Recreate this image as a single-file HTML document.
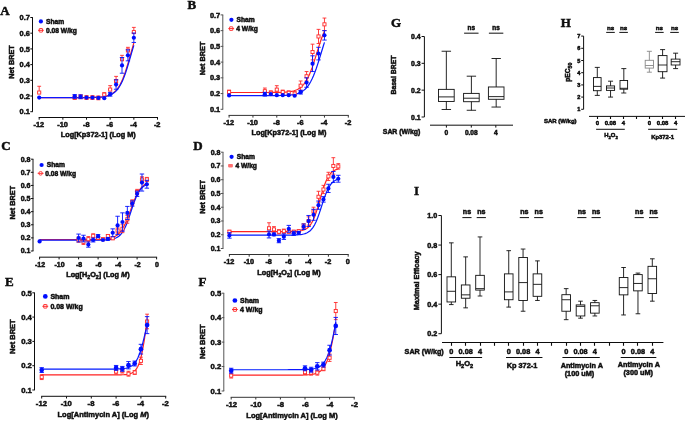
<!DOCTYPE html>
<html><head><meta charset="utf-8"><style>
html,body{margin:0;padding:0;background:#fff;}
body{width:685px;height:421px;overflow:hidden;}
svg{display:block;}
</style></head><body>
<svg width="685" height="421" viewBox="0 0 685 421">
<defs><filter id="bl" x="0" y="0" width="100%" height="100%"><feGaussianBlur stdDeviation="0.3"/></filter></defs>
<rect width="685" height="421" fill="#fff"/>
<g filter="url(#bl)">
<line x1="32.50" y1="17.50" x2="32.50" y2="111.70" stroke="#111" stroke-width="1.0" />
<line x1="30.30" y1="111.70" x2="32.90" y2="111.70" stroke="#111" stroke-width="1.0" />
<text x="29.90" y="114.33" font-family="Liberation Sans" font-weight="bold" font-size="7.4" text-anchor="end" fill="#111" stroke="#111" stroke-width="0.5" >0.1</text>
<line x1="30.30" y1="96.00" x2="32.90" y2="96.00" stroke="#111" stroke-width="1.0" />
<text x="29.90" y="98.63" font-family="Liberation Sans" font-weight="bold" font-size="7.4" text-anchor="end" fill="#111" stroke="#111" stroke-width="0.5" >0.2</text>
<line x1="30.30" y1="80.30" x2="32.90" y2="80.30" stroke="#111" stroke-width="1.0" />
<text x="29.90" y="82.93" font-family="Liberation Sans" font-weight="bold" font-size="7.4" text-anchor="end" fill="#111" stroke="#111" stroke-width="0.5" >0.3</text>
<line x1="30.30" y1="64.60" x2="32.90" y2="64.60" stroke="#111" stroke-width="1.0" />
<text x="29.90" y="67.23" font-family="Liberation Sans" font-weight="bold" font-size="7.4" text-anchor="end" fill="#111" stroke="#111" stroke-width="0.5" >0.4</text>
<line x1="30.30" y1="48.90" x2="32.90" y2="48.90" stroke="#111" stroke-width="1.0" />
<text x="29.90" y="51.53" font-family="Liberation Sans" font-weight="bold" font-size="7.4" text-anchor="end" fill="#111" stroke="#111" stroke-width="0.5" >0.5</text>
<line x1="30.30" y1="33.20" x2="32.90" y2="33.20" stroke="#111" stroke-width="1.0" />
<text x="29.90" y="35.83" font-family="Liberation Sans" font-weight="bold" font-size="7.4" text-anchor="end" fill="#111" stroke="#111" stroke-width="0.5" >0.6</text>
<line x1="30.30" y1="17.50" x2="32.90" y2="17.50" stroke="#111" stroke-width="1.0" />
<text x="29.90" y="20.13" font-family="Liberation Sans" font-weight="bold" font-size="7.4" text-anchor="end" fill="#111" stroke="#111" stroke-width="0.5" >0.7</text>
<line x1="38.70" y1="117.50" x2="158.00" y2="117.50" stroke="#111" stroke-width="1.0" />
<line x1="39.20" y1="117.50" x2="39.20" y2="119.70" stroke="#111" stroke-width="1.0" />
<text x="38.90" y="126.90" font-family="Liberation Sans" font-weight="bold" font-size="7.4" text-anchor="middle" fill="#111" stroke="#111" stroke-width="0.5" >-12</text>
<line x1="62.86" y1="117.50" x2="62.86" y2="119.70" stroke="#111" stroke-width="1.0" />
<text x="62.56" y="126.90" font-family="Liberation Sans" font-weight="bold" font-size="7.4" text-anchor="middle" fill="#111" stroke="#111" stroke-width="0.5" >-10</text>
<line x1="86.52" y1="117.50" x2="86.52" y2="119.70" stroke="#111" stroke-width="1.0" />
<text x="86.22" y="126.90" font-family="Liberation Sans" font-weight="bold" font-size="7.4" text-anchor="middle" fill="#111" stroke="#111" stroke-width="0.5" >-8</text>
<line x1="110.18" y1="117.50" x2="110.18" y2="119.70" stroke="#111" stroke-width="1.0" />
<text x="109.88" y="126.90" font-family="Liberation Sans" font-weight="bold" font-size="7.4" text-anchor="middle" fill="#111" stroke="#111" stroke-width="0.5" >-6</text>
<line x1="133.84" y1="117.50" x2="133.84" y2="119.70" stroke="#111" stroke-width="1.0" />
<text x="133.54" y="126.90" font-family="Liberation Sans" font-weight="bold" font-size="7.4" text-anchor="middle" fill="#111" stroke="#111" stroke-width="0.5" >-4</text>
<line x1="157.50" y1="117.50" x2="157.50" y2="119.70" stroke="#111" stroke-width="1.0" />
<text x="157.20" y="126.90" font-family="Liberation Sans" font-weight="bold" font-size="7.4" text-anchor="middle" fill="#111" stroke="#111" stroke-width="0.5" >-2</text>
<text x="98.30" y="137.00" font-family="Liberation Sans" font-weight="bold" font-size="7.3" text-anchor="middle" fill="#111" stroke="#111" stroke-width="0.5">Log[Kp372-1] (Log M)</text>
<text transform="translate(14.00,62.00) rotate(-90)" font-family="Liberation Sans" font-weight="bold" font-size="7.3" text-anchor="middle" fill="#111" stroke="#111" stroke-width="0.5">Net BRET</text>
<text x="0.20" y="14.50" font-family="Liberation Serif" font-weight="bold" font-size="13" text-anchor="start" fill="#111" stroke="#111" stroke-width="0.5" >A</text>
<path d="M39.20,97.64 L40.57,97.64 L41.94,97.64 L43.31,97.64 L44.69,97.64 L46.06,97.64 L47.43,97.64 L48.80,97.64 L50.17,97.64 L51.54,97.64 L52.92,97.64 L54.29,97.64 L55.66,97.64 L57.03,97.64 L58.40,97.64 L59.77,97.64 L61.15,97.64 L62.52,97.64 L63.89,97.64 L65.26,97.64 L66.63,97.64 L68.00,97.64 L69.38,97.63 L70.75,97.63 L72.12,97.63 L73.49,97.63 L74.86,97.63 L76.23,97.63 L77.60,97.62 L78.98,97.62 L80.35,97.62 L81.72,97.61 L83.09,97.60 L84.46,97.59 L85.83,97.58 L87.21,97.57 L88.58,97.55 L89.95,97.53 L91.32,97.50 L92.69,97.47 L94.06,97.42 L95.44,97.37 L96.81,97.30 L98.18,97.22 L99.55,97.11 L100.92,96.98 L102.29,96.82 L103.66,96.61 L105.04,96.36 L106.41,96.04 L107.78,95.65 L109.15,95.16 L110.52,94.55 L111.89,93.81 L113.27,92.89 L114.64,91.77 L116.01,90.41 L117.38,88.77 L118.75,86.81 L120.12,84.48 L121.50,81.77 L122.87,78.63 L124.24,75.08 L125.61,71.12 L126.98,66.79 L128.35,62.18 L129.73,57.38 L131.10,52.50 L132.47,47.66 L133.84,42.98" fill="none" stroke="#ff2424" stroke-width="1.2"/>
<path d="M39.20,97.64 L40.57,97.64 L41.94,97.64 L43.31,97.64 L44.69,97.64 L46.06,97.64 L47.43,97.64 L48.80,97.64 L50.17,97.64 L51.54,97.64 L52.92,97.64 L54.29,97.64 L55.66,97.64 L57.03,97.64 L58.40,97.64 L59.77,97.64 L61.15,97.64 L62.52,97.64 L63.89,97.64 L65.26,97.64 L66.63,97.64 L68.00,97.64 L69.38,97.64 L70.75,97.63 L72.12,97.63 L73.49,97.63 L74.86,97.63 L76.23,97.63 L77.60,97.63 L78.98,97.62 L80.35,97.62 L81.72,97.62 L83.09,97.61 L84.46,97.60 L85.83,97.59 L87.21,97.58 L88.58,97.57 L89.95,97.55 L91.32,97.52 L92.69,97.49 L94.06,97.46 L95.44,97.41 L96.81,97.35 L98.18,97.28 L99.55,97.19 L100.92,97.07 L102.29,96.93 L103.66,96.74 L105.04,96.51 L106.41,96.23 L107.78,95.87 L109.15,95.43 L110.52,94.88 L111.89,94.20 L113.27,93.35 L114.64,92.32 L116.01,91.06 L117.38,89.52 L118.75,87.68 L120.12,85.48 L121.50,82.90 L122.87,79.91 L124.24,76.50 L125.61,72.69 L126.98,68.51 L128.35,64.04 L129.73,59.37 L131.10,54.61 L132.47,49.90 L133.84,45.34" fill="none" stroke="#0818ff" stroke-width="1.2"/>
<line x1="39.20" y1="86.27" x2="39.20" y2="92.55" stroke="#ff2a2a" stroke-width="0.9" />
<line x1="37.30" y1="86.27" x2="41.10" y2="86.27" stroke="#ff2a2a" stroke-width="0.9" />
<line x1="37.30" y1="92.55" x2="41.10" y2="92.55" stroke="#ff2a2a" stroke-width="0.9" />
<rect x="37.65" y="91.00" width="3.10" height="3.10" fill="#fff" stroke="#ff2a2a" stroke-width="0.9"/>
<line x1="74.69" y1="95.69" x2="74.69" y2="99.45" stroke="#ff2a2a" stroke-width="0.9" />
<line x1="72.79" y1="95.69" x2="76.59" y2="95.69" stroke="#ff2a2a" stroke-width="0.9" />
<line x1="72.79" y1="99.45" x2="76.59" y2="99.45" stroke="#ff2a2a" stroke-width="0.9" />
<rect x="73.14" y="96.02" width="3.10" height="3.10" fill="#fff" stroke="#ff2a2a" stroke-width="0.9"/>
<line x1="80.61" y1="94.90" x2="80.61" y2="98.67" stroke="#ff2a2a" stroke-width="0.9" />
<line x1="78.70" y1="94.90" x2="82.51" y2="94.90" stroke="#ff2a2a" stroke-width="0.9" />
<line x1="78.70" y1="98.67" x2="82.51" y2="98.67" stroke="#ff2a2a" stroke-width="0.9" />
<rect x="79.06" y="95.23" width="3.10" height="3.10" fill="#fff" stroke="#ff2a2a" stroke-width="0.9"/>
<line x1="86.52" y1="95.69" x2="86.52" y2="99.45" stroke="#ff2a2a" stroke-width="0.9" />
<line x1="84.62" y1="95.69" x2="88.42" y2="95.69" stroke="#ff2a2a" stroke-width="0.9" />
<line x1="84.62" y1="99.45" x2="88.42" y2="99.45" stroke="#ff2a2a" stroke-width="0.9" />
<rect x="84.97" y="96.02" width="3.10" height="3.10" fill="#fff" stroke="#ff2a2a" stroke-width="0.9"/>
<line x1="92.44" y1="95.69" x2="92.44" y2="99.45" stroke="#ff2a2a" stroke-width="0.9" />
<line x1="90.53" y1="95.69" x2="94.34" y2="95.69" stroke="#ff2a2a" stroke-width="0.9" />
<line x1="90.53" y1="99.45" x2="94.34" y2="99.45" stroke="#ff2a2a" stroke-width="0.9" />
<rect x="90.89" y="96.02" width="3.10" height="3.10" fill="#fff" stroke="#ff2a2a" stroke-width="0.9"/>
<line x1="98.35" y1="96.00" x2="98.35" y2="99.77" stroke="#ff2a2a" stroke-width="0.9" />
<line x1="96.45" y1="96.00" x2="100.25" y2="96.00" stroke="#ff2a2a" stroke-width="0.9" />
<line x1="96.45" y1="99.77" x2="100.25" y2="99.77" stroke="#ff2a2a" stroke-width="0.9" />
<rect x="96.80" y="96.33" width="3.10" height="3.10" fill="#fff" stroke="#ff2a2a" stroke-width="0.9"/>
<line x1="104.27" y1="92.70" x2="104.27" y2="94.59" stroke="#ff2a2a" stroke-width="0.9" />
<line x1="102.36" y1="92.70" x2="106.17" y2="92.70" stroke="#ff2a2a" stroke-width="0.9" />
<line x1="102.36" y1="94.59" x2="106.17" y2="94.59" stroke="#ff2a2a" stroke-width="0.9" />
<rect x="102.72" y="93.04" width="3.10" height="3.10" fill="#fff" stroke="#ff2a2a" stroke-width="0.9"/>
<line x1="110.18" y1="85.64" x2="110.18" y2="89.56" stroke="#ff2a2a" stroke-width="0.9" />
<line x1="108.28" y1="85.64" x2="112.08" y2="85.64" stroke="#ff2a2a" stroke-width="0.9" />
<line x1="108.28" y1="89.56" x2="112.08" y2="89.56" stroke="#ff2a2a" stroke-width="0.9" />
<rect x="108.63" y="88.01" width="3.10" height="3.10" fill="#fff" stroke="#ff2a2a" stroke-width="0.9"/>
<line x1="116.09" y1="76.38" x2="116.09" y2="81.09" stroke="#ff2a2a" stroke-width="0.9" />
<line x1="114.19" y1="76.38" x2="118.00" y2="76.38" stroke="#ff2a2a" stroke-width="0.9" />
<line x1="114.19" y1="81.09" x2="118.00" y2="81.09" stroke="#ff2a2a" stroke-width="0.9" />
<rect x="114.55" y="79.54" width="3.10" height="3.10" fill="#fff" stroke="#ff2a2a" stroke-width="0.9"/>
<line x1="122.01" y1="55.34" x2="122.01" y2="59.26" stroke="#ff2a2a" stroke-width="0.9" />
<line x1="120.11" y1="55.34" x2="123.91" y2="55.34" stroke="#ff2a2a" stroke-width="0.9" />
<line x1="120.11" y1="59.26" x2="123.91" y2="59.26" stroke="#ff2a2a" stroke-width="0.9" />
<rect x="120.46" y="57.71" width="3.10" height="3.10" fill="#fff" stroke="#ff2a2a" stroke-width="0.9"/>
<line x1="127.92" y1="47.33" x2="127.92" y2="50.47" stroke="#ff2a2a" stroke-width="0.9" />
<line x1="126.02" y1="47.33" x2="129.82" y2="47.33" stroke="#ff2a2a" stroke-width="0.9" />
<line x1="126.02" y1="50.47" x2="129.82" y2="50.47" stroke="#ff2a2a" stroke-width="0.9" />
<rect x="126.38" y="48.92" width="3.10" height="3.10" fill="#fff" stroke="#ff2a2a" stroke-width="0.9"/>
<line x1="133.84" y1="27.39" x2="133.84" y2="32.10" stroke="#ff2a2a" stroke-width="0.9" />
<line x1="131.94" y1="27.39" x2="135.74" y2="27.39" stroke="#ff2a2a" stroke-width="0.9" />
<line x1="131.94" y1="32.10" x2="135.74" y2="32.10" stroke="#ff2a2a" stroke-width="0.9" />
<rect x="132.29" y="30.55" width="3.10" height="3.10" fill="#fff" stroke="#ff2a2a" stroke-width="0.9"/>
<circle cx="39.20" cy="97.57" r="2.10" fill="#0010ff"/>
<line x1="74.69" y1="94.59" x2="74.69" y2="98.36" stroke="#0010ff" stroke-width="0.9" />
<line x1="72.49" y1="94.59" x2="76.89" y2="94.59" stroke="#0010ff" stroke-width="0.9" />
<line x1="72.49" y1="98.36" x2="76.89" y2="98.36" stroke="#0010ff" stroke-width="0.9" />
<circle cx="74.69" cy="96.47" r="2.10" fill="#0010ff"/>
<line x1="80.61" y1="94.90" x2="80.61" y2="98.67" stroke="#0010ff" stroke-width="0.9" />
<line x1="78.41" y1="94.90" x2="82.81" y2="94.90" stroke="#0010ff" stroke-width="0.9" />
<line x1="78.41" y1="98.67" x2="82.81" y2="98.67" stroke="#0010ff" stroke-width="0.9" />
<circle cx="80.61" cy="96.78" r="2.10" fill="#0010ff"/>
<circle cx="86.52" cy="97.57" r="2.10" fill="#0010ff"/>
<circle cx="92.44" cy="97.57" r="2.10" fill="#0010ff"/>
<circle cx="98.35" cy="97.88" r="2.10" fill="#0010ff"/>
<circle cx="104.27" cy="98.20" r="2.10" fill="#0010ff"/>
<line x1="110.18" y1="92.39" x2="110.18" y2="96.16" stroke="#0010ff" stroke-width="0.9" />
<line x1="107.98" y1="92.39" x2="112.38" y2="92.39" stroke="#0010ff" stroke-width="0.9" />
<line x1="107.98" y1="96.16" x2="112.38" y2="96.16" stroke="#0010ff" stroke-width="0.9" />
<circle cx="110.18" cy="94.27" r="2.10" fill="#0010ff"/>
<line x1="116.09" y1="79.83" x2="116.09" y2="89.25" stroke="#0010ff" stroke-width="0.9" />
<line x1="113.89" y1="79.83" x2="118.30" y2="79.83" stroke="#0010ff" stroke-width="0.9" />
<line x1="113.89" y1="89.25" x2="118.30" y2="89.25" stroke="#0010ff" stroke-width="0.9" />
<circle cx="116.09" cy="84.54" r="2.10" fill="#0010ff"/>
<line x1="122.01" y1="57.54" x2="122.01" y2="73.23" stroke="#0010ff" stroke-width="0.9" />
<line x1="119.81" y1="57.54" x2="124.21" y2="57.54" stroke="#0010ff" stroke-width="0.9" />
<line x1="119.81" y1="73.23" x2="124.21" y2="73.23" stroke="#0010ff" stroke-width="0.9" />
<circle cx="122.01" cy="65.38" r="2.10" fill="#0010ff"/>
<line x1="127.92" y1="49.84" x2="127.92" y2="60.83" stroke="#0010ff" stroke-width="0.9" />
<line x1="125.72" y1="49.84" x2="130.12" y2="49.84" stroke="#0010ff" stroke-width="0.9" />
<line x1="125.72" y1="60.83" x2="130.12" y2="60.83" stroke="#0010ff" stroke-width="0.9" />
<circle cx="127.92" cy="55.34" r="2.10" fill="#0010ff"/>
<line x1="133.84" y1="33.04" x2="133.84" y2="42.46" stroke="#0010ff" stroke-width="0.9" />
<line x1="131.64" y1="33.04" x2="136.04" y2="33.04" stroke="#0010ff" stroke-width="0.9" />
<line x1="131.64" y1="42.46" x2="136.04" y2="42.46" stroke="#0010ff" stroke-width="0.9" />
<circle cx="133.84" cy="37.75" r="2.10" fill="#0010ff"/>
<circle cx="40.90" cy="21.40" r="2.10" fill="#0010ff"/>
<text x="46.00" y="23.80" font-family="Liberation Sans" font-weight="bold" font-size="6.7" text-anchor="start" fill="#111" stroke="#111" stroke-width="0.5" >Sham</text>
<line x1="38.00" y1="30.30" x2="43.80" y2="30.30" stroke="#ff2a2a" stroke-width="1.0" />
<rect x="39.30" y="28.50" width="3.20" height="3.60" rx="0.3" fill="none" stroke="#ff2a2a" stroke-width="0.9"/>
<text x="46.00" y="32.70" font-family="Liberation Sans" font-weight="bold" font-size="6.7" text-anchor="start" fill="#111" stroke="#111" stroke-width="0.5" >0.08 W/kg</text>
<line x1="222.80" y1="14.90" x2="222.80" y2="109.30" stroke="#555" stroke-width="1.0" />
<line x1="220.60" y1="109.30" x2="223.20" y2="109.30" stroke="#555" stroke-width="1.0" />
<text x="220.20" y="111.93" font-family="Liberation Sans" font-weight="bold" font-size="7.4" text-anchor="end" fill="#111" stroke="#111" stroke-width="0.5" >0.1</text>
<line x1="220.60" y1="93.57" x2="223.20" y2="93.57" stroke="#555" stroke-width="1.0" />
<text x="220.20" y="96.19" font-family="Liberation Sans" font-weight="bold" font-size="7.4" text-anchor="end" fill="#111" stroke="#111" stroke-width="0.5" >0.2</text>
<line x1="220.60" y1="77.83" x2="223.20" y2="77.83" stroke="#555" stroke-width="1.0" />
<text x="220.20" y="80.46" font-family="Liberation Sans" font-weight="bold" font-size="7.4" text-anchor="end" fill="#111" stroke="#111" stroke-width="0.5" >0.3</text>
<line x1="220.60" y1="62.10" x2="223.20" y2="62.10" stroke="#555" stroke-width="1.0" />
<text x="220.20" y="64.73" font-family="Liberation Sans" font-weight="bold" font-size="7.4" text-anchor="end" fill="#111" stroke="#111" stroke-width="0.5" >0.4</text>
<line x1="220.60" y1="46.37" x2="223.20" y2="46.37" stroke="#555" stroke-width="1.0" />
<text x="220.20" y="48.99" font-family="Liberation Sans" font-weight="bold" font-size="7.4" text-anchor="end" fill="#111" stroke="#111" stroke-width="0.5" >0.5</text>
<line x1="220.60" y1="30.63" x2="223.20" y2="30.63" stroke="#555" stroke-width="1.0" />
<text x="220.20" y="33.26" font-family="Liberation Sans" font-weight="bold" font-size="7.4" text-anchor="end" fill="#111" stroke="#111" stroke-width="0.5" >0.6</text>
<line x1="220.60" y1="14.90" x2="223.20" y2="14.90" stroke="#555" stroke-width="1.0" />
<text x="220.20" y="17.53" font-family="Liberation Sans" font-weight="bold" font-size="7.4" text-anchor="end" fill="#111" stroke="#111" stroke-width="0.5" >0.7</text>
<line x1="228.60" y1="115.40" x2="348.80" y2="115.40" stroke="#333" stroke-width="1.0" />
<line x1="229.10" y1="115.40" x2="229.10" y2="117.60" stroke="#333" stroke-width="1.0" />
<text x="228.80" y="124.80" font-family="Liberation Sans" font-weight="bold" font-size="7.4" text-anchor="middle" fill="#111" stroke="#111" stroke-width="0.5" >-12</text>
<line x1="252.94" y1="115.40" x2="252.94" y2="117.60" stroke="#333" stroke-width="1.0" />
<text x="252.64" y="124.80" font-family="Liberation Sans" font-weight="bold" font-size="7.4" text-anchor="middle" fill="#111" stroke="#111" stroke-width="0.5" >-10</text>
<line x1="276.78" y1="115.40" x2="276.78" y2="117.60" stroke="#333" stroke-width="1.0" />
<text x="276.48" y="124.80" font-family="Liberation Sans" font-weight="bold" font-size="7.4" text-anchor="middle" fill="#111" stroke="#111" stroke-width="0.5" >-8</text>
<line x1="300.62" y1="115.40" x2="300.62" y2="117.60" stroke="#333" stroke-width="1.0" />
<text x="300.32" y="124.80" font-family="Liberation Sans" font-weight="bold" font-size="7.4" text-anchor="middle" fill="#111" stroke="#111" stroke-width="0.5" >-6</text>
<line x1="324.46" y1="115.40" x2="324.46" y2="117.60" stroke="#333" stroke-width="1.0" />
<text x="324.16" y="124.80" font-family="Liberation Sans" font-weight="bold" font-size="7.4" text-anchor="middle" fill="#111" stroke="#111" stroke-width="0.5" >-4</text>
<line x1="348.30" y1="115.40" x2="348.30" y2="117.60" stroke="#333" stroke-width="1.0" />
<text x="348.00" y="124.80" font-family="Liberation Sans" font-weight="bold" font-size="7.4" text-anchor="middle" fill="#111" stroke="#111" stroke-width="0.5" >-2</text>
<text x="289.00" y="134.50" font-family="Liberation Sans" font-weight="bold" font-size="7.3" text-anchor="middle" fill="#111" stroke="#111" stroke-width="0.5">Log[Kp372-1] (Log M)</text>
<text transform="translate(205.00,58.40) rotate(-90)" font-family="Liberation Sans" font-weight="bold" font-size="7.3" text-anchor="middle" fill="#111" stroke="#111" stroke-width="0.5">Net BRET</text>
<text x="187.50" y="9.00" font-family="Liberation Serif" font-weight="bold" font-size="13" text-anchor="start" fill="#111" stroke="#111" stroke-width="0.5" >B</text>
<path d="M229.10,92.52 L230.48,92.52 L231.86,92.52 L233.25,92.52 L234.63,92.52 L236.01,92.52 L237.39,92.52 L238.77,92.52 L240.16,92.52 L241.54,92.52 L242.92,92.52 L244.30,92.52 L245.68,92.52 L247.07,92.52 L248.45,92.52 L249.83,92.52 L251.21,92.52 L252.59,92.51 L253.98,92.51 L255.36,92.51 L256.74,92.51 L258.12,92.51 L259.50,92.51 L260.89,92.51 L262.27,92.51 L263.65,92.51 L265.03,92.50 L266.41,92.50 L267.80,92.49 L269.18,92.49 L270.56,92.48 L271.94,92.47 L273.32,92.46 L274.71,92.44 L276.09,92.42 L277.47,92.40 L278.85,92.37 L280.24,92.33 L281.62,92.29 L283.00,92.23 L284.38,92.15 L285.76,92.06 L287.15,91.94 L288.53,91.79 L289.91,91.61 L291.29,91.38 L292.67,91.09 L294.06,90.73 L295.44,90.28 L296.82,89.73 L298.20,89.04 L299.58,88.20 L300.97,87.16 L302.35,85.90 L303.73,84.37 L305.11,82.54 L306.49,80.37 L307.88,77.83 L309.26,74.90 L310.64,71.58 L312.02,67.88 L313.40,63.86 L314.79,59.59 L316.17,55.15 L317.55,50.67 L318.93,46.27 L320.31,42.04 L321.70,38.08 L323.08,34.46 L324.46,31.22" fill="none" stroke="#ff2424" stroke-width="1.2"/>
<path d="M229.10,95.65 L230.48,95.65 L231.86,95.65 L233.25,95.65 L234.63,95.65 L236.01,95.65 L237.39,95.65 L238.77,95.65 L240.16,95.65 L241.54,95.65 L242.92,95.65 L244.30,95.65 L245.68,95.65 L247.07,95.65 L248.45,95.65 L249.83,95.65 L251.21,95.65 L252.59,95.65 L253.98,95.65 L255.36,95.65 L256.74,95.65 L258.12,95.65 L259.50,95.65 L260.89,95.65 L262.27,95.65 L263.65,95.64 L265.03,95.64 L266.41,95.64 L267.80,95.64 L269.18,95.63 L270.56,95.62 L271.94,95.62 L273.32,95.61 L274.71,95.60 L276.09,95.58 L277.47,95.56 L278.85,95.54 L280.24,95.52 L281.62,95.48 L283.00,95.44 L284.38,95.39 L285.76,95.32 L287.15,95.24 L288.53,95.14 L289.91,95.02 L291.29,94.87 L292.67,94.68 L294.06,94.45 L295.44,94.16 L296.82,93.80 L298.20,93.37 L299.58,92.83 L300.97,92.17 L302.35,91.37 L303.73,90.39 L305.11,89.21 L306.49,87.79 L307.88,86.10 L309.26,84.10 L310.64,81.76 L312.02,79.06 L313.40,75.97 L314.79,72.52 L316.17,68.71 L317.55,64.59 L318.93,60.25 L320.31,55.75 L321.70,51.22 L323.08,46.74 L324.46,42.43" fill="none" stroke="#0818ff" stroke-width="1.2"/>
<line x1="229.10" y1="90.11" x2="229.10" y2="93.88" stroke="#ff2a2a" stroke-width="0.9" />
<line x1="227.20" y1="90.11" x2="231.00" y2="90.11" stroke="#ff2a2a" stroke-width="0.9" />
<line x1="227.20" y1="93.88" x2="231.00" y2="93.88" stroke="#ff2a2a" stroke-width="0.9" />
<rect x="227.55" y="90.44" width="3.10" height="3.10" fill="#fff" stroke="#ff2a2a" stroke-width="0.9"/>
<line x1="264.86" y1="88.06" x2="264.86" y2="91.21" stroke="#ff2a2a" stroke-width="0.9" />
<line x1="262.96" y1="88.06" x2="266.76" y2="88.06" stroke="#ff2a2a" stroke-width="0.9" />
<line x1="262.96" y1="91.21" x2="266.76" y2="91.21" stroke="#ff2a2a" stroke-width="0.9" />
<rect x="263.31" y="89.66" width="3.10" height="3.10" fill="#fff" stroke="#ff2a2a" stroke-width="0.9"/>
<line x1="270.82" y1="90.89" x2="270.82" y2="94.67" stroke="#ff2a2a" stroke-width="0.9" />
<line x1="268.92" y1="90.89" x2="272.72" y2="90.89" stroke="#ff2a2a" stroke-width="0.9" />
<line x1="268.92" y1="94.67" x2="272.72" y2="94.67" stroke="#ff2a2a" stroke-width="0.9" />
<rect x="269.27" y="91.23" width="3.10" height="3.10" fill="#fff" stroke="#ff2a2a" stroke-width="0.9"/>
<line x1="276.78" y1="85.70" x2="276.78" y2="91.21" stroke="#ff2a2a" stroke-width="0.9" />
<line x1="274.88" y1="85.70" x2="278.68" y2="85.70" stroke="#ff2a2a" stroke-width="0.9" />
<line x1="274.88" y1="91.21" x2="278.68" y2="91.21" stroke="#ff2a2a" stroke-width="0.9" />
<rect x="275.23" y="88.08" width="3.10" height="3.10" fill="#fff" stroke="#ff2a2a" stroke-width="0.9"/>
<line x1="282.74" y1="90.11" x2="282.74" y2="93.88" stroke="#ff2a2a" stroke-width="0.9" />
<line x1="280.84" y1="90.11" x2="284.64" y2="90.11" stroke="#ff2a2a" stroke-width="0.9" />
<line x1="280.84" y1="93.88" x2="284.64" y2="93.88" stroke="#ff2a2a" stroke-width="0.9" />
<rect x="281.19" y="90.44" width="3.10" height="3.10" fill="#fff" stroke="#ff2a2a" stroke-width="0.9"/>
<line x1="288.70" y1="90.89" x2="288.70" y2="94.67" stroke="#ff2a2a" stroke-width="0.9" />
<line x1="286.80" y1="90.89" x2="290.60" y2="90.89" stroke="#ff2a2a" stroke-width="0.9" />
<line x1="286.80" y1="94.67" x2="290.60" y2="94.67" stroke="#ff2a2a" stroke-width="0.9" />
<rect x="287.15" y="91.23" width="3.10" height="3.10" fill="#fff" stroke="#ff2a2a" stroke-width="0.9"/>
<line x1="294.66" y1="91.68" x2="294.66" y2="95.45" stroke="#ff2a2a" stroke-width="0.9" />
<line x1="292.76" y1="91.68" x2="296.56" y2="91.68" stroke="#ff2a2a" stroke-width="0.9" />
<line x1="292.76" y1="95.45" x2="296.56" y2="95.45" stroke="#ff2a2a" stroke-width="0.9" />
<rect x="293.11" y="92.02" width="3.10" height="3.10" fill="#fff" stroke="#ff2a2a" stroke-width="0.9"/>
<line x1="300.62" y1="80.98" x2="300.62" y2="90.42" stroke="#ff2a2a" stroke-width="0.9" />
<line x1="298.72" y1="80.98" x2="302.52" y2="80.98" stroke="#ff2a2a" stroke-width="0.9" />
<line x1="298.72" y1="90.42" x2="302.52" y2="90.42" stroke="#ff2a2a" stroke-width="0.9" />
<rect x="299.07" y="84.15" width="3.10" height="3.10" fill="#fff" stroke="#ff2a2a" stroke-width="0.9"/>
<line x1="306.58" y1="71.54" x2="306.58" y2="80.98" stroke="#ff2a2a" stroke-width="0.9" />
<line x1="304.68" y1="71.54" x2="308.48" y2="71.54" stroke="#ff2a2a" stroke-width="0.9" />
<line x1="304.68" y1="80.98" x2="308.48" y2="80.98" stroke="#ff2a2a" stroke-width="0.9" />
<rect x="305.03" y="74.71" width="3.10" height="3.10" fill="#fff" stroke="#ff2a2a" stroke-width="0.9"/>
<line x1="312.54" y1="44.16" x2="312.54" y2="59.90" stroke="#ff2a2a" stroke-width="0.9" />
<line x1="310.64" y1="44.16" x2="314.44" y2="44.16" stroke="#ff2a2a" stroke-width="0.9" />
<line x1="310.64" y1="59.90" x2="314.44" y2="59.90" stroke="#ff2a2a" stroke-width="0.9" />
<rect x="310.99" y="50.48" width="3.10" height="3.10" fill="#fff" stroke="#ff2a2a" stroke-width="0.9"/>
<line x1="318.50" y1="29.37" x2="318.50" y2="43.53" stroke="#ff2a2a" stroke-width="0.9" />
<line x1="316.60" y1="29.37" x2="320.40" y2="29.37" stroke="#ff2a2a" stroke-width="0.9" />
<line x1="316.60" y1="43.53" x2="320.40" y2="43.53" stroke="#ff2a2a" stroke-width="0.9" />
<rect x="316.95" y="34.90" width="3.10" height="3.10" fill="#fff" stroke="#ff2a2a" stroke-width="0.9"/>
<line x1="324.46" y1="18.05" x2="324.46" y2="30.63" stroke="#ff2a2a" stroke-width="0.9" />
<line x1="322.56" y1="18.05" x2="326.36" y2="18.05" stroke="#ff2a2a" stroke-width="0.9" />
<line x1="322.56" y1="30.63" x2="326.36" y2="30.63" stroke="#ff2a2a" stroke-width="0.9" />
<rect x="322.91" y="22.79" width="3.10" height="3.10" fill="#fff" stroke="#ff2a2a" stroke-width="0.9"/>
<circle cx="229.10" cy="95.45" r="2.10" fill="#0010ff"/>
<line x1="264.86" y1="92.31" x2="264.86" y2="96.08" stroke="#0010ff" stroke-width="0.9" />
<line x1="262.66" y1="92.31" x2="267.06" y2="92.31" stroke="#0010ff" stroke-width="0.9" />
<line x1="262.66" y1="96.08" x2="267.06" y2="96.08" stroke="#0010ff" stroke-width="0.9" />
<circle cx="264.86" cy="94.20" r="2.10" fill="#0010ff"/>
<circle cx="270.82" cy="94.04" r="2.10" fill="#0010ff"/>
<circle cx="276.78" cy="95.14" r="2.10" fill="#0010ff"/>
<circle cx="282.74" cy="95.14" r="2.10" fill="#0010ff"/>
<circle cx="288.70" cy="95.14" r="2.10" fill="#0010ff"/>
<circle cx="294.66" cy="95.77" r="2.10" fill="#0010ff"/>
<line x1="300.62" y1="90.26" x2="300.62" y2="94.04" stroke="#0010ff" stroke-width="0.9" />
<line x1="298.42" y1="90.26" x2="302.82" y2="90.26" stroke="#0010ff" stroke-width="0.9" />
<line x1="298.42" y1="94.04" x2="302.82" y2="94.04" stroke="#0010ff" stroke-width="0.9" />
<circle cx="300.62" cy="92.15" r="2.10" fill="#0010ff"/>
<line x1="306.58" y1="77.83" x2="306.58" y2="87.27" stroke="#0010ff" stroke-width="0.9" />
<line x1="304.38" y1="77.83" x2="308.78" y2="77.83" stroke="#0010ff" stroke-width="0.9" />
<line x1="304.38" y1="87.27" x2="308.78" y2="87.27" stroke="#0010ff" stroke-width="0.9" />
<circle cx="306.58" cy="82.55" r="2.10" fill="#0010ff"/>
<line x1="312.54" y1="55.81" x2="312.54" y2="71.54" stroke="#0010ff" stroke-width="0.9" />
<line x1="310.34" y1="55.81" x2="314.74" y2="55.81" stroke="#0010ff" stroke-width="0.9" />
<line x1="310.34" y1="71.54" x2="314.74" y2="71.54" stroke="#0010ff" stroke-width="0.9" />
<circle cx="312.54" cy="63.67" r="2.10" fill="#0010ff"/>
<line x1="318.50" y1="47.31" x2="318.50" y2="59.90" stroke="#0010ff" stroke-width="0.9" />
<line x1="316.30" y1="47.31" x2="320.70" y2="47.31" stroke="#0010ff" stroke-width="0.9" />
<line x1="316.30" y1="59.90" x2="320.70" y2="59.90" stroke="#0010ff" stroke-width="0.9" />
<circle cx="318.50" cy="53.60" r="2.10" fill="#0010ff"/>
<line x1="324.46" y1="30.63" x2="324.46" y2="40.07" stroke="#0010ff" stroke-width="0.9" />
<line x1="322.26" y1="30.63" x2="326.66" y2="30.63" stroke="#0010ff" stroke-width="0.9" />
<line x1="322.26" y1="40.07" x2="326.66" y2="40.07" stroke="#0010ff" stroke-width="0.9" />
<circle cx="324.46" cy="35.35" r="2.10" fill="#0010ff"/>
<circle cx="231.40" cy="19.80" r="2.10" fill="#0010ff"/>
<text x="236.50" y="22.20" font-family="Liberation Sans" font-weight="bold" font-size="6.7" text-anchor="start" fill="#111" stroke="#111" stroke-width="0.5" >Sham</text>
<line x1="228.30" y1="28.60" x2="234.10" y2="28.60" stroke="#ff2a2a" stroke-width="1.0" />
<rect x="229.60" y="26.80" width="3.20" height="3.60" rx="0.3" fill="none" stroke="#ff2a2a" stroke-width="0.9"/>
<text x="236.30" y="31.00" font-family="Liberation Sans" font-weight="bold" font-size="6.7" text-anchor="start" fill="#111" stroke="#111" stroke-width="0.5" >4 W/kg</text>
<line x1="33.00" y1="159.20" x2="33.00" y2="251.00" stroke="#111" stroke-width="1.0" />
<line x1="30.80" y1="251.00" x2="33.40" y2="251.00" stroke="#111" stroke-width="1.0" />
<text x="30.40" y="253.49" font-family="Liberation Sans" font-weight="bold" font-size="7.0" text-anchor="end" fill="#111" stroke="#111" stroke-width="0.5" >0.1</text>
<line x1="30.80" y1="237.89" x2="33.40" y2="237.89" stroke="#111" stroke-width="1.0" />
<text x="30.40" y="240.37" font-family="Liberation Sans" font-weight="bold" font-size="7.0" text-anchor="end" fill="#111" stroke="#111" stroke-width="0.5" >0.2</text>
<line x1="30.80" y1="224.77" x2="33.40" y2="224.77" stroke="#111" stroke-width="1.0" />
<text x="30.40" y="227.26" font-family="Liberation Sans" font-weight="bold" font-size="7.0" text-anchor="end" fill="#111" stroke="#111" stroke-width="0.5" >0.3</text>
<line x1="30.80" y1="211.66" x2="33.40" y2="211.66" stroke="#111" stroke-width="1.0" />
<text x="30.40" y="214.14" font-family="Liberation Sans" font-weight="bold" font-size="7.0" text-anchor="end" fill="#111" stroke="#111" stroke-width="0.5" >0.4</text>
<line x1="30.80" y1="198.54" x2="33.40" y2="198.54" stroke="#111" stroke-width="1.0" />
<text x="30.40" y="201.03" font-family="Liberation Sans" font-weight="bold" font-size="7.0" text-anchor="end" fill="#111" stroke="#111" stroke-width="0.5" >0.5</text>
<line x1="30.80" y1="185.43" x2="33.40" y2="185.43" stroke="#111" stroke-width="1.0" />
<text x="30.40" y="187.91" font-family="Liberation Sans" font-weight="bold" font-size="7.0" text-anchor="end" fill="#111" stroke="#111" stroke-width="0.5" >0.6</text>
<line x1="30.80" y1="172.31" x2="33.40" y2="172.31" stroke="#111" stroke-width="1.0" />
<text x="30.40" y="174.80" font-family="Liberation Sans" font-weight="bold" font-size="7.0" text-anchor="end" fill="#111" stroke="#111" stroke-width="0.5" >0.7</text>
<line x1="30.80" y1="159.20" x2="33.40" y2="159.20" stroke="#111" stroke-width="1.0" />
<text x="30.40" y="161.69" font-family="Liberation Sans" font-weight="bold" font-size="7.0" text-anchor="end" fill="#111" stroke="#111" stroke-width="0.5" >0.8</text>
<line x1="39.10" y1="257.20" x2="157.10" y2="257.20" stroke="#111" stroke-width="1.0" />
<line x1="39.60" y1="257.20" x2="39.60" y2="259.40" stroke="#111" stroke-width="1.0" />
<text x="40.00" y="266.60" font-family="Liberation Sans" font-weight="bold" font-size="7.0" text-anchor="middle" fill="#111" stroke="#111" stroke-width="0.5" >-12</text>
<line x1="59.10" y1="257.20" x2="59.10" y2="259.40" stroke="#111" stroke-width="1.0" />
<text x="59.50" y="266.60" font-family="Liberation Sans" font-weight="bold" font-size="7.0" text-anchor="middle" fill="#111" stroke="#111" stroke-width="0.5" >-10</text>
<line x1="78.60" y1="257.20" x2="78.60" y2="259.40" stroke="#111" stroke-width="1.0" />
<text x="79.00" y="266.60" font-family="Liberation Sans" font-weight="bold" font-size="7.0" text-anchor="middle" fill="#111" stroke="#111" stroke-width="0.5" >-8</text>
<line x1="98.10" y1="257.20" x2="98.10" y2="259.40" stroke="#111" stroke-width="1.0" />
<text x="98.50" y="266.60" font-family="Liberation Sans" font-weight="bold" font-size="7.0" text-anchor="middle" fill="#111" stroke="#111" stroke-width="0.5" >-6</text>
<line x1="117.60" y1="257.20" x2="117.60" y2="259.40" stroke="#111" stroke-width="1.0" />
<text x="118.00" y="266.60" font-family="Liberation Sans" font-weight="bold" font-size="7.0" text-anchor="middle" fill="#111" stroke="#111" stroke-width="0.5" >-4</text>
<line x1="137.10" y1="257.20" x2="137.10" y2="259.40" stroke="#111" stroke-width="1.0" />
<text x="137.50" y="266.60" font-family="Liberation Sans" font-weight="bold" font-size="7.0" text-anchor="middle" fill="#111" stroke="#111" stroke-width="0.5" >-2</text>
<line x1="156.60" y1="257.20" x2="156.60" y2="259.40" stroke="#111" stroke-width="1.0" />
<text x="157.00" y="266.60" font-family="Liberation Sans" font-weight="bold" font-size="7.0" text-anchor="middle" fill="#111" stroke="#111" stroke-width="0.5" >0</text>
<text x="97.90" y="276.80" font-family="Liberation Sans" font-weight="bold" font-size="7.3" text-anchor="middle" fill="#111" stroke="#111" stroke-width="0.5">Log[H<tspan font-size="5.2" dy="1.9">2</tspan><tspan dy="-1.9">O</tspan><tspan font-size="5.2" dy="1.9">2</tspan><tspan dy="-1.9">] (Log </tspan><tspan font-style="italic">M</tspan>)</text>
<text transform="translate(14.50,202.70) rotate(-90)" font-family="Liberation Sans" font-weight="bold" font-size="7.3" text-anchor="middle" fill="#111" stroke="#111" stroke-width="0.5">Net BRET</text>
<text x="1.20" y="150.20" font-family="Liberation Serif" font-weight="bold" font-size="13" text-anchor="start" fill="#111" stroke="#111" stroke-width="0.5" >C</text>
<path d="M39.60,239.70 L41.15,239.70 L42.71,239.70 L44.26,239.70 L45.82,239.70 L47.37,239.70 L48.93,239.70 L50.48,239.70 L52.03,239.70 L53.59,239.70 L55.14,239.70 L56.70,239.70 L58.25,239.70 L59.81,239.70 L61.36,239.70 L62.92,239.70 L64.47,239.70 L66.02,239.70 L67.58,239.70 L69.13,239.70 L70.69,239.70 L72.24,239.70 L73.80,239.70 L75.35,239.70 L76.90,239.70 L78.46,239.70 L80.01,239.70 L81.57,239.70 L83.12,239.69 L84.68,239.69 L86.23,239.69 L87.78,239.68 L89.34,239.67 L90.89,239.66 L92.45,239.65 L94.00,239.63 L95.56,239.61 L97.11,239.58 L98.67,239.54 L100.22,239.48 L101.77,239.41 L103.33,239.31 L104.88,239.18 L106.44,239.01 L107.99,238.79 L109.55,238.49 L111.10,238.10 L112.65,237.59 L114.21,236.93 L115.76,236.07 L117.32,234.96 L118.87,233.56 L120.43,231.80 L121.98,229.63 L123.53,227.01 L125.09,223.92 L126.64,220.40 L128.20,216.50 L129.75,212.36 L131.31,208.12 L132.86,203.95 L134.42,200.01 L135.97,196.43 L137.52,193.28 L139.08,190.60 L140.63,188.36 L142.19,186.55 L143.74,185.10 L145.30,183.95 L146.85,183.06" fill="none" stroke="#ff2424" stroke-width="1.2"/>
<path d="M39.60,240.20 L41.15,240.20 L42.71,240.20 L44.26,240.20 L45.82,240.20 L47.37,240.20 L48.93,240.20 L50.48,240.20 L52.03,240.20 L53.59,240.20 L55.14,240.20 L56.70,240.20 L58.25,240.20 L59.81,240.20 L61.36,240.20 L62.92,240.20 L64.47,240.20 L66.02,240.20 L67.58,240.20 L69.13,240.20 L70.69,240.20 L72.24,240.20 L73.80,240.20 L75.35,240.20 L76.90,240.20 L78.46,240.20 L80.01,240.20 L81.57,240.20 L83.12,240.20 L84.68,240.20 L86.23,240.20 L87.78,240.20 L89.34,240.19 L90.89,240.19 L92.45,240.19 L94.00,240.18 L95.56,240.17 L97.11,240.16 L98.67,240.14 L100.22,240.12 L101.77,240.09 L103.33,240.04 L104.88,239.98 L106.44,239.90 L107.99,239.78 L109.55,239.61 L111.10,239.39 L112.65,239.07 L114.21,238.64 L115.76,238.05 L117.32,237.25 L118.87,236.17 L120.43,234.74 L121.98,232.88 L123.53,230.49 L125.09,227.52 L126.64,223.96 L128.20,219.84 L129.75,215.31 L131.31,210.58 L132.86,205.89 L134.42,201.48 L135.97,197.55 L137.52,194.20 L139.08,191.44 L140.63,189.25 L142.19,187.55 L143.74,186.25 L145.30,185.28 L146.85,184.56" fill="none" stroke="#0818ff" stroke-width="1.2"/>
<line x1="78.60" y1="236.97" x2="78.60" y2="242.21" stroke="#ff2a2a" stroke-width="0.9" />
<line x1="76.70" y1="236.97" x2="80.50" y2="236.97" stroke="#ff2a2a" stroke-width="0.9" />
<line x1="76.70" y1="242.21" x2="80.50" y2="242.21" stroke="#ff2a2a" stroke-width="0.9" />
<rect x="77.05" y="238.04" width="3.10" height="3.10" fill="#fff" stroke="#ff2a2a" stroke-width="0.9"/>
<line x1="83.47" y1="239.20" x2="83.47" y2="244.44" stroke="#ff2a2a" stroke-width="0.9" />
<line x1="81.57" y1="239.20" x2="85.38" y2="239.20" stroke="#ff2a2a" stroke-width="0.9" />
<line x1="81.57" y1="244.44" x2="85.38" y2="244.44" stroke="#ff2a2a" stroke-width="0.9" />
<rect x="81.92" y="240.27" width="3.10" height="3.10" fill="#fff" stroke="#ff2a2a" stroke-width="0.9"/>
<line x1="88.35" y1="236.57" x2="88.35" y2="241.82" stroke="#ff2a2a" stroke-width="0.9" />
<line x1="86.45" y1="236.57" x2="90.25" y2="236.57" stroke="#ff2a2a" stroke-width="0.9" />
<line x1="86.45" y1="241.82" x2="90.25" y2="241.82" stroke="#ff2a2a" stroke-width="0.9" />
<rect x="86.80" y="237.65" width="3.10" height="3.10" fill="#fff" stroke="#ff2a2a" stroke-width="0.9"/>
<line x1="93.22" y1="233.82" x2="93.22" y2="237.75" stroke="#ff2a2a" stroke-width="0.9" />
<line x1="91.32" y1="233.82" x2="95.12" y2="233.82" stroke="#ff2a2a" stroke-width="0.9" />
<line x1="91.32" y1="237.75" x2="95.12" y2="237.75" stroke="#ff2a2a" stroke-width="0.9" />
<rect x="91.67" y="234.24" width="3.10" height="3.10" fill="#fff" stroke="#ff2a2a" stroke-width="0.9"/>
<line x1="98.10" y1="236.57" x2="98.10" y2="239.20" stroke="#ff2a2a" stroke-width="0.9" />
<line x1="96.20" y1="236.57" x2="100.00" y2="236.57" stroke="#ff2a2a" stroke-width="0.9" />
<line x1="96.20" y1="239.20" x2="100.00" y2="239.20" stroke="#ff2a2a" stroke-width="0.9" />
<rect x="96.55" y="236.34" width="3.10" height="3.10" fill="#fff" stroke="#ff2a2a" stroke-width="0.9"/>
<line x1="102.97" y1="237.89" x2="102.97" y2="240.51" stroke="#ff2a2a" stroke-width="0.9" />
<line x1="101.07" y1="237.89" x2="104.88" y2="237.89" stroke="#ff2a2a" stroke-width="0.9" />
<line x1="101.07" y1="240.51" x2="104.88" y2="240.51" stroke="#ff2a2a" stroke-width="0.9" />
<rect x="101.42" y="237.65" width="3.10" height="3.10" fill="#fff" stroke="#ff2a2a" stroke-width="0.9"/>
<line x1="107.85" y1="234.74" x2="107.85" y2="237.36" stroke="#ff2a2a" stroke-width="0.9" />
<line x1="105.95" y1="234.74" x2="109.75" y2="234.74" stroke="#ff2a2a" stroke-width="0.9" />
<line x1="105.95" y1="237.36" x2="109.75" y2="237.36" stroke="#ff2a2a" stroke-width="0.9" />
<rect x="106.30" y="234.50" width="3.10" height="3.10" fill="#fff" stroke="#ff2a2a" stroke-width="0.9"/>
<line x1="112.72" y1="236.97" x2="112.72" y2="239.59" stroke="#ff2a2a" stroke-width="0.9" />
<line x1="110.82" y1="236.97" x2="114.62" y2="236.97" stroke="#ff2a2a" stroke-width="0.9" />
<line x1="110.82" y1="239.59" x2="114.62" y2="239.59" stroke="#ff2a2a" stroke-width="0.9" />
<rect x="111.17" y="236.73" width="3.10" height="3.10" fill="#fff" stroke="#ff2a2a" stroke-width="0.9"/>
<line x1="117.60" y1="227.92" x2="117.60" y2="233.16" stroke="#ff2a2a" stroke-width="0.9" />
<line x1="115.70" y1="227.92" x2="119.50" y2="227.92" stroke="#ff2a2a" stroke-width="0.9" />
<line x1="115.70" y1="233.16" x2="119.50" y2="233.16" stroke="#ff2a2a" stroke-width="0.9" />
<rect x="116.05" y="228.99" width="3.10" height="3.10" fill="#fff" stroke="#ff2a2a" stroke-width="0.9"/>
<line x1="122.47" y1="224.77" x2="122.47" y2="232.64" stroke="#ff2a2a" stroke-width="0.9" />
<line x1="120.57" y1="224.77" x2="124.38" y2="224.77" stroke="#ff2a2a" stroke-width="0.9" />
<line x1="120.57" y1="232.64" x2="124.38" y2="232.64" stroke="#ff2a2a" stroke-width="0.9" />
<rect x="120.92" y="227.16" width="3.10" height="3.10" fill="#fff" stroke="#ff2a2a" stroke-width="0.9"/>
<line x1="127.35" y1="215.33" x2="127.35" y2="223.20" stroke="#ff2a2a" stroke-width="0.9" />
<line x1="125.45" y1="215.33" x2="129.25" y2="215.33" stroke="#ff2a2a" stroke-width="0.9" />
<line x1="125.45" y1="223.20" x2="129.25" y2="223.20" stroke="#ff2a2a" stroke-width="0.9" />
<rect x="125.80" y="217.71" width="3.10" height="3.10" fill="#fff" stroke="#ff2a2a" stroke-width="0.9"/>
<line x1="132.22" y1="199.85" x2="132.22" y2="205.10" stroke="#ff2a2a" stroke-width="0.9" />
<line x1="130.32" y1="199.85" x2="134.12" y2="199.85" stroke="#ff2a2a" stroke-width="0.9" />
<line x1="130.32" y1="205.10" x2="134.12" y2="205.10" stroke="#ff2a2a" stroke-width="0.9" />
<rect x="130.67" y="200.93" width="3.10" height="3.10" fill="#fff" stroke="#ff2a2a" stroke-width="0.9"/>
<line x1="137.10" y1="189.36" x2="137.10" y2="194.61" stroke="#ff2a2a" stroke-width="0.9" />
<line x1="135.20" y1="189.36" x2="139.00" y2="189.36" stroke="#ff2a2a" stroke-width="0.9" />
<line x1="135.20" y1="194.61" x2="139.00" y2="194.61" stroke="#ff2a2a" stroke-width="0.9" />
<rect x="135.55" y="190.44" width="3.10" height="3.10" fill="#fff" stroke="#ff2a2a" stroke-width="0.9"/>
<line x1="141.97" y1="176.77" x2="141.97" y2="182.02" stroke="#ff2a2a" stroke-width="0.9" />
<line x1="140.07" y1="176.77" x2="143.88" y2="176.77" stroke="#ff2a2a" stroke-width="0.9" />
<line x1="140.07" y1="182.02" x2="143.88" y2="182.02" stroke="#ff2a2a" stroke-width="0.9" />
<rect x="140.42" y="177.85" width="3.10" height="3.10" fill="#fff" stroke="#ff2a2a" stroke-width="0.9"/>
<line x1="146.85" y1="177.43" x2="146.85" y2="181.36" stroke="#ff2a2a" stroke-width="0.9" />
<line x1="144.95" y1="177.43" x2="148.75" y2="177.43" stroke="#ff2a2a" stroke-width="0.9" />
<line x1="144.95" y1="181.36" x2="148.75" y2="181.36" stroke="#ff2a2a" stroke-width="0.9" />
<rect x="145.30" y="177.85" width="3.10" height="3.10" fill="#fff" stroke="#ff2a2a" stroke-width="0.9"/>
<circle cx="39.60" cy="241.43" r="2.10" fill="#0010ff"/>
<line x1="78.60" y1="234.08" x2="78.60" y2="241.95" stroke="#0010ff" stroke-width="0.9" />
<line x1="76.40" y1="234.08" x2="80.80" y2="234.08" stroke="#0010ff" stroke-width="0.9" />
<line x1="76.40" y1="241.95" x2="80.80" y2="241.95" stroke="#0010ff" stroke-width="0.9" />
<circle cx="78.60" cy="238.02" r="2.10" fill="#0010ff"/>
<line x1="83.47" y1="235.26" x2="83.47" y2="241.82" stroke="#0010ff" stroke-width="0.9" />
<line x1="81.27" y1="235.26" x2="85.67" y2="235.26" stroke="#0010ff" stroke-width="0.9" />
<line x1="81.27" y1="241.82" x2="85.67" y2="241.82" stroke="#0010ff" stroke-width="0.9" />
<circle cx="83.47" cy="238.54" r="2.10" fill="#0010ff"/>
<line x1="88.35" y1="241.95" x2="88.35" y2="247.20" stroke="#0010ff" stroke-width="0.9" />
<line x1="86.15" y1="241.95" x2="90.55" y2="241.95" stroke="#0010ff" stroke-width="0.9" />
<line x1="86.15" y1="247.20" x2="90.55" y2="247.20" stroke="#0010ff" stroke-width="0.9" />
<circle cx="88.35" cy="244.57" r="2.10" fill="#0010ff"/>
<line x1="93.22" y1="238.02" x2="93.22" y2="241.95" stroke="#0010ff" stroke-width="0.9" />
<line x1="91.02" y1="238.02" x2="95.42" y2="238.02" stroke="#0010ff" stroke-width="0.9" />
<line x1="91.02" y1="241.95" x2="95.42" y2="241.95" stroke="#0010ff" stroke-width="0.9" />
<circle cx="93.22" cy="239.98" r="2.10" fill="#0010ff"/>
<line x1="98.10" y1="234.61" x2="98.10" y2="237.75" stroke="#0010ff" stroke-width="0.9" />
<line x1="95.90" y1="234.61" x2="100.30" y2="234.61" stroke="#0010ff" stroke-width="0.9" />
<line x1="95.90" y1="237.75" x2="100.30" y2="237.75" stroke="#0010ff" stroke-width="0.9" />
<circle cx="98.10" cy="236.18" r="2.10" fill="#0010ff"/>
<circle cx="102.97" cy="239.98" r="2.10" fill="#0010ff"/>
<line x1="107.85" y1="237.62" x2="107.85" y2="240.25" stroke="#0010ff" stroke-width="0.9" />
<line x1="105.65" y1="237.62" x2="110.05" y2="237.62" stroke="#0010ff" stroke-width="0.9" />
<line x1="105.65" y1="240.25" x2="110.05" y2="240.25" stroke="#0010ff" stroke-width="0.9" />
<circle cx="107.85" cy="238.93" r="2.10" fill="#0010ff"/>
<line x1="112.72" y1="228.84" x2="112.72" y2="236.71" stroke="#0010ff" stroke-width="0.9" />
<line x1="110.52" y1="228.84" x2="114.92" y2="228.84" stroke="#0010ff" stroke-width="0.9" />
<line x1="110.52" y1="236.71" x2="114.92" y2="236.71" stroke="#0010ff" stroke-width="0.9" />
<circle cx="112.72" cy="232.77" r="2.10" fill="#0010ff"/>
<line x1="117.60" y1="216.25" x2="117.60" y2="234.61" stroke="#0010ff" stroke-width="0.9" />
<line x1="115.40" y1="216.25" x2="119.80" y2="216.25" stroke="#0010ff" stroke-width="0.9" />
<line x1="115.40" y1="234.61" x2="119.80" y2="234.61" stroke="#0010ff" stroke-width="0.9" />
<circle cx="117.60" cy="225.43" r="2.10" fill="#0010ff"/>
<line x1="122.47" y1="212.84" x2="122.47" y2="231.20" stroke="#0010ff" stroke-width="0.9" />
<line x1="120.27" y1="212.84" x2="124.67" y2="212.84" stroke="#0010ff" stroke-width="0.9" />
<line x1="120.27" y1="231.20" x2="124.67" y2="231.20" stroke="#0010ff" stroke-width="0.9" />
<circle cx="122.47" cy="222.02" r="2.10" fill="#0010ff"/>
<line x1="127.35" y1="206.41" x2="127.35" y2="219.53" stroke="#0010ff" stroke-width="0.9" />
<line x1="125.15" y1="206.41" x2="129.55" y2="206.41" stroke="#0010ff" stroke-width="0.9" />
<line x1="125.15" y1="219.53" x2="129.55" y2="219.53" stroke="#0010ff" stroke-width="0.9" />
<circle cx="127.35" cy="212.97" r="2.10" fill="#0010ff"/>
<line x1="132.22" y1="200.90" x2="132.22" y2="206.15" stroke="#0010ff" stroke-width="0.9" />
<line x1="130.03" y1="200.90" x2="134.42" y2="200.90" stroke="#0010ff" stroke-width="0.9" />
<line x1="130.03" y1="206.15" x2="134.42" y2="206.15" stroke="#0010ff" stroke-width="0.9" />
<circle cx="132.22" cy="203.53" r="2.10" fill="#0010ff"/>
<line x1="137.10" y1="191.20" x2="137.10" y2="196.44" stroke="#0010ff" stroke-width="0.9" />
<line x1="134.90" y1="191.20" x2="139.30" y2="191.20" stroke="#0010ff" stroke-width="0.9" />
<line x1="134.90" y1="196.44" x2="139.30" y2="196.44" stroke="#0010ff" stroke-width="0.9" />
<circle cx="137.10" cy="193.82" r="2.10" fill="#0010ff"/>
<line x1="141.97" y1="174.02" x2="141.97" y2="191.07" stroke="#0010ff" stroke-width="0.9" />
<line x1="139.78" y1="174.02" x2="144.17" y2="174.02" stroke="#0010ff" stroke-width="0.9" />
<line x1="139.78" y1="191.07" x2="144.17" y2="191.07" stroke="#0010ff" stroke-width="0.9" />
<circle cx="141.97" cy="182.54" r="2.10" fill="#0010ff"/>
<line x1="146.85" y1="180.31" x2="146.85" y2="188.18" stroke="#0010ff" stroke-width="0.9" />
<line x1="144.65" y1="180.31" x2="149.05" y2="180.31" stroke="#0010ff" stroke-width="0.9" />
<line x1="144.65" y1="188.18" x2="149.05" y2="188.18" stroke="#0010ff" stroke-width="0.9" />
<circle cx="146.85" cy="184.25" r="2.10" fill="#0010ff"/>
<circle cx="41.60" cy="165.00" r="2.10" fill="#0010ff"/>
<text x="46.70" y="167.40" font-family="Liberation Sans" font-weight="bold" font-size="6.7" text-anchor="start" fill="#111" stroke="#111" stroke-width="0.5" >Sham</text>
<line x1="37.70" y1="173.30" x2="43.50" y2="173.30" stroke="#ff2a2a" stroke-width="1.0" />
<rect x="39.00" y="171.50" width="3.20" height="3.60" rx="1.4" fill="none" stroke="#ff2a2a" stroke-width="0.9"/>
<text x="45.20" y="175.70" font-family="Liberation Sans" font-weight="bold" font-size="6.7" text-anchor="start" fill="#111" stroke="#111" stroke-width="0.5" >0.08 W/kg</text>
<line x1="223.00" y1="152.20" x2="223.00" y2="248.50" stroke="#555" stroke-width="1.0" />
<line x1="220.80" y1="248.50" x2="223.40" y2="248.50" stroke="#555" stroke-width="1.0" />
<text x="220.40" y="250.99" font-family="Liberation Sans" font-weight="bold" font-size="7.0" text-anchor="end" fill="#111" stroke="#111" stroke-width="0.5" >0.1</text>
<line x1="220.80" y1="234.74" x2="223.40" y2="234.74" stroke="#555" stroke-width="1.0" />
<text x="220.40" y="237.23" font-family="Liberation Sans" font-weight="bold" font-size="7.0" text-anchor="end" fill="#111" stroke="#111" stroke-width="0.5" >0.2</text>
<line x1="220.80" y1="220.99" x2="223.40" y2="220.99" stroke="#555" stroke-width="1.0" />
<text x="220.40" y="223.47" font-family="Liberation Sans" font-weight="bold" font-size="7.0" text-anchor="end" fill="#111" stroke="#111" stroke-width="0.5" >0.3</text>
<line x1="220.80" y1="207.23" x2="223.40" y2="207.23" stroke="#555" stroke-width="1.0" />
<text x="220.40" y="209.71" font-family="Liberation Sans" font-weight="bold" font-size="7.0" text-anchor="end" fill="#111" stroke="#111" stroke-width="0.5" >0.4</text>
<line x1="220.80" y1="193.47" x2="223.40" y2="193.47" stroke="#555" stroke-width="1.0" />
<text x="220.40" y="195.96" font-family="Liberation Sans" font-weight="bold" font-size="7.0" text-anchor="end" fill="#111" stroke="#111" stroke-width="0.5" >0.5</text>
<line x1="220.80" y1="179.71" x2="223.40" y2="179.71" stroke="#555" stroke-width="1.0" />
<text x="220.40" y="182.20" font-family="Liberation Sans" font-weight="bold" font-size="7.0" text-anchor="end" fill="#111" stroke="#111" stroke-width="0.5" >0.6</text>
<line x1="220.80" y1="165.96" x2="223.40" y2="165.96" stroke="#555" stroke-width="1.0" />
<text x="220.40" y="168.44" font-family="Liberation Sans" font-weight="bold" font-size="7.0" text-anchor="end" fill="#111" stroke="#111" stroke-width="0.5" >0.7</text>
<line x1="220.80" y1="152.20" x2="223.40" y2="152.20" stroke="#555" stroke-width="1.0" />
<text x="220.40" y="154.69" font-family="Liberation Sans" font-weight="bold" font-size="7.0" text-anchor="end" fill="#111" stroke="#111" stroke-width="0.5" >0.8</text>
<line x1="228.90" y1="254.50" x2="348.70" y2="254.50" stroke="#333" stroke-width="1.0" />
<line x1="229.40" y1="254.50" x2="229.40" y2="256.70" stroke="#333" stroke-width="1.0" />
<text x="229.10" y="264.10" font-family="Liberation Sans" font-weight="bold" font-size="7.3" text-anchor="middle" fill="#111" stroke="#111" stroke-width="0.5" >-12</text>
<line x1="249.20" y1="254.50" x2="249.20" y2="256.70" stroke="#333" stroke-width="1.0" />
<text x="248.90" y="264.10" font-family="Liberation Sans" font-weight="bold" font-size="7.3" text-anchor="middle" fill="#111" stroke="#111" stroke-width="0.5" >-10</text>
<line x1="269.00" y1="254.50" x2="269.00" y2="256.70" stroke="#333" stroke-width="1.0" />
<text x="268.70" y="264.10" font-family="Liberation Sans" font-weight="bold" font-size="7.3" text-anchor="middle" fill="#111" stroke="#111" stroke-width="0.5" >-8</text>
<line x1="288.80" y1="254.50" x2="288.80" y2="256.70" stroke="#333" stroke-width="1.0" />
<text x="288.50" y="264.10" font-family="Liberation Sans" font-weight="bold" font-size="7.3" text-anchor="middle" fill="#111" stroke="#111" stroke-width="0.5" >-6</text>
<line x1="308.60" y1="254.50" x2="308.60" y2="256.70" stroke="#333" stroke-width="1.0" />
<text x="308.30" y="264.10" font-family="Liberation Sans" font-weight="bold" font-size="7.3" text-anchor="middle" fill="#111" stroke="#111" stroke-width="0.5" >-4</text>
<line x1="328.40" y1="254.50" x2="328.40" y2="256.70" stroke="#333" stroke-width="1.0" />
<text x="328.10" y="264.10" font-family="Liberation Sans" font-weight="bold" font-size="7.3" text-anchor="middle" fill="#111" stroke="#111" stroke-width="0.5" >-2</text>
<line x1="348.20" y1="254.50" x2="348.20" y2="256.70" stroke="#333" stroke-width="1.0" />
<text x="347.90" y="264.10" font-family="Liberation Sans" font-weight="bold" font-size="7.3" text-anchor="middle" fill="#111" stroke="#111" stroke-width="0.5" >0</text>
<text x="289.00" y="275.30" font-family="Liberation Sans" font-weight="bold" font-size="7.3" text-anchor="middle" fill="#111" stroke="#111" stroke-width="0.5">Log[H<tspan font-size="5.2" dy="1.9">2</tspan><tspan dy="-1.9">O</tspan><tspan font-size="5.2" dy="1.9">2</tspan><tspan dy="-1.9">] (Log </tspan>M)</text>
<text transform="translate(205.00,196.90) rotate(-90)" font-family="Liberation Sans" font-weight="bold" font-size="7.3" text-anchor="middle" fill="#111" stroke="#111" stroke-width="0.5">Net BRET</text>
<text x="193.30" y="149.60" font-family="Liberation Serif" font-weight="bold" font-size="13" text-anchor="start" fill="#111" stroke="#111" stroke-width="0.5" >D</text>
<path d="M229.40,231.71 L230.98,231.71 L232.56,231.71 L234.13,231.71 L235.71,231.71 L237.29,231.71 L238.87,231.71 L240.45,231.71 L242.03,231.71 L243.60,231.71 L245.18,231.71 L246.76,231.71 L248.34,231.71 L249.92,231.71 L251.50,231.71 L253.07,231.71 L254.65,231.71 L256.23,231.71 L257.81,231.71 L259.39,231.71 L260.97,231.71 L262.54,231.71 L264.12,231.71 L265.70,231.71 L267.28,231.71 L268.86,231.71 L270.43,231.71 L272.01,231.71 L273.59,231.70 L275.17,231.70 L276.75,231.70 L278.33,231.70 L279.90,231.70 L281.48,231.69 L283.06,231.69 L284.64,231.68 L286.22,231.67 L287.80,231.66 L289.37,231.63 L290.95,231.60 L292.53,231.56 L294.11,231.50 L295.69,231.41 L297.27,231.29 L298.84,231.12 L300.42,230.88 L302.00,230.54 L303.58,230.06 L305.16,229.39 L306.73,228.48 L308.31,227.22 L309.89,225.52 L311.47,223.28 L313.05,220.38 L314.63,216.76 L316.20,212.40 L317.78,207.40 L319.36,201.97 L320.94,196.41 L322.52,191.05 L324.10,186.18 L325.67,181.97 L327.25,178.51 L328.83,175.76 L330.41,173.65 L331.99,172.06 L333.57,170.89 L335.14,170.03 L336.72,169.41 L338.30,168.97" fill="none" stroke="#ff2424" stroke-width="1.2"/>
<path d="M229.40,235.15 L230.98,235.15 L232.56,235.15 L234.13,235.15 L235.71,235.15 L237.29,235.15 L238.87,235.15 L240.45,235.15 L242.03,235.15 L243.60,235.15 L245.18,235.15 L246.76,235.15 L248.34,235.15 L249.92,235.15 L251.50,235.15 L253.07,235.15 L254.65,235.15 L256.23,235.15 L257.81,235.15 L259.39,235.15 L260.97,235.15 L262.54,235.15 L264.12,235.15 L265.70,235.15 L267.28,235.15 L268.86,235.15 L270.43,235.15 L272.01,235.15 L273.59,235.15 L275.17,235.15 L276.75,235.15 L278.33,235.15 L279.90,235.14 L281.48,235.14 L283.06,235.14 L284.64,235.13 L286.22,235.12 L287.80,235.11 L289.37,235.10 L290.95,235.08 L292.53,235.05 L294.11,235.00 L295.69,234.94 L297.27,234.86 L298.84,234.74 L300.42,234.57 L302.00,234.34 L303.58,234.02 L305.16,233.57 L306.73,232.94 L308.31,232.09 L309.89,230.92 L311.47,229.36 L313.05,227.32 L314.63,224.69 L316.20,221.43 L317.78,217.53 L319.36,213.08 L320.94,208.26 L322.52,203.33 L324.10,198.58 L325.67,194.24 L327.25,190.48 L328.83,187.36 L330.41,184.87 L331.99,182.95 L333.57,181.49 L335.14,180.40 L336.72,179.60 L338.30,179.02" fill="none" stroke="#0818ff" stroke-width="1.2"/>
<line x1="229.40" y1="230.34" x2="229.40" y2="233.09" stroke="#ff2a2a" stroke-width="0.9" />
<line x1="227.50" y1="230.34" x2="231.30" y2="230.34" stroke="#ff2a2a" stroke-width="0.9" />
<line x1="227.50" y1="233.09" x2="231.30" y2="233.09" stroke="#ff2a2a" stroke-width="0.9" />
<rect x="227.85" y="230.17" width="3.10" height="3.10" fill="#fff" stroke="#ff2a2a" stroke-width="0.9"/>
<line x1="269.00" y1="222.77" x2="269.00" y2="229.65" stroke="#ff2a2a" stroke-width="0.9" />
<line x1="267.10" y1="222.77" x2="270.90" y2="222.77" stroke="#ff2a2a" stroke-width="0.9" />
<line x1="267.10" y1="229.65" x2="270.90" y2="229.65" stroke="#ff2a2a" stroke-width="0.9" />
<rect x="267.45" y="226.73" width="3.10" height="3.10" fill="#fff" stroke="#ff2a2a" stroke-width="0.9"/>
<line x1="273.95" y1="226.63" x2="273.95" y2="232.13" stroke="#ff2a2a" stroke-width="0.9" />
<line x1="272.05" y1="226.63" x2="275.85" y2="226.63" stroke="#ff2a2a" stroke-width="0.9" />
<line x1="272.05" y1="232.13" x2="275.85" y2="232.13" stroke="#ff2a2a" stroke-width="0.9" />
<rect x="272.40" y="227.83" width="3.10" height="3.10" fill="#fff" stroke="#ff2a2a" stroke-width="0.9"/>
<line x1="278.90" y1="229.65" x2="278.90" y2="233.78" stroke="#ff2a2a" stroke-width="0.9" />
<line x1="277.00" y1="229.65" x2="280.80" y2="229.65" stroke="#ff2a2a" stroke-width="0.9" />
<line x1="277.00" y1="233.78" x2="280.80" y2="233.78" stroke="#ff2a2a" stroke-width="0.9" />
<rect x="277.35" y="230.17" width="3.10" height="3.10" fill="#fff" stroke="#ff2a2a" stroke-width="0.9"/>
<line x1="283.85" y1="229.10" x2="283.85" y2="233.23" stroke="#ff2a2a" stroke-width="0.9" />
<line x1="281.95" y1="229.10" x2="285.75" y2="229.10" stroke="#ff2a2a" stroke-width="0.9" />
<line x1="281.95" y1="233.23" x2="285.75" y2="233.23" stroke="#ff2a2a" stroke-width="0.9" />
<rect x="282.30" y="229.62" width="3.10" height="3.10" fill="#fff" stroke="#ff2a2a" stroke-width="0.9"/>
<line x1="288.80" y1="230.34" x2="288.80" y2="233.09" stroke="#ff2a2a" stroke-width="0.9" />
<line x1="286.90" y1="230.34" x2="290.70" y2="230.34" stroke="#ff2a2a" stroke-width="0.9" />
<line x1="286.90" y1="233.09" x2="290.70" y2="233.09" stroke="#ff2a2a" stroke-width="0.9" />
<rect x="287.25" y="230.17" width="3.10" height="3.10" fill="#fff" stroke="#ff2a2a" stroke-width="0.9"/>
<line x1="293.75" y1="230.34" x2="293.75" y2="233.09" stroke="#ff2a2a" stroke-width="0.9" />
<line x1="291.85" y1="230.34" x2="295.65" y2="230.34" stroke="#ff2a2a" stroke-width="0.9" />
<line x1="291.85" y1="233.09" x2="295.65" y2="233.09" stroke="#ff2a2a" stroke-width="0.9" />
<rect x="292.20" y="230.17" width="3.10" height="3.10" fill="#fff" stroke="#ff2a2a" stroke-width="0.9"/>
<line x1="298.70" y1="229.79" x2="298.70" y2="232.54" stroke="#ff2a2a" stroke-width="0.9" />
<line x1="296.80" y1="229.79" x2="300.60" y2="229.79" stroke="#ff2a2a" stroke-width="0.9" />
<line x1="296.80" y1="232.54" x2="300.60" y2="232.54" stroke="#ff2a2a" stroke-width="0.9" />
<rect x="297.15" y="229.62" width="3.10" height="3.10" fill="#fff" stroke="#ff2a2a" stroke-width="0.9"/>
<line x1="303.65" y1="223.74" x2="303.65" y2="229.24" stroke="#ff2a2a" stroke-width="0.9" />
<line x1="301.75" y1="223.74" x2="305.55" y2="223.74" stroke="#ff2a2a" stroke-width="0.9" />
<line x1="301.75" y1="229.24" x2="305.55" y2="229.24" stroke="#ff2a2a" stroke-width="0.9" />
<rect x="302.10" y="224.94" width="3.10" height="3.10" fill="#fff" stroke="#ff2a2a" stroke-width="0.9"/>
<line x1="308.60" y1="216.86" x2="308.60" y2="225.11" stroke="#ff2a2a" stroke-width="0.9" />
<line x1="306.70" y1="216.86" x2="310.50" y2="216.86" stroke="#ff2a2a" stroke-width="0.9" />
<line x1="306.70" y1="225.11" x2="310.50" y2="225.11" stroke="#ff2a2a" stroke-width="0.9" />
<rect x="307.05" y="219.44" width="3.10" height="3.10" fill="#fff" stroke="#ff2a2a" stroke-width="0.9"/>
<line x1="313.55" y1="207.23" x2="313.55" y2="215.48" stroke="#ff2a2a" stroke-width="0.9" />
<line x1="311.65" y1="207.23" x2="315.45" y2="207.23" stroke="#ff2a2a" stroke-width="0.9" />
<line x1="311.65" y1="215.48" x2="315.45" y2="215.48" stroke="#ff2a2a" stroke-width="0.9" />
<rect x="312.00" y="209.81" width="3.10" height="3.10" fill="#fff" stroke="#ff2a2a" stroke-width="0.9"/>
<line x1="318.50" y1="191.27" x2="318.50" y2="202.28" stroke="#ff2a2a" stroke-width="0.9" />
<line x1="316.60" y1="191.27" x2="320.40" y2="191.27" stroke="#ff2a2a" stroke-width="0.9" />
<line x1="316.60" y1="202.28" x2="320.40" y2="202.28" stroke="#ff2a2a" stroke-width="0.9" />
<rect x="316.95" y="195.22" width="3.10" height="3.10" fill="#fff" stroke="#ff2a2a" stroke-width="0.9"/>
<line x1="323.45" y1="185.35" x2="323.45" y2="193.61" stroke="#ff2a2a" stroke-width="0.9" />
<line x1="321.55" y1="185.35" x2="325.35" y2="185.35" stroke="#ff2a2a" stroke-width="0.9" />
<line x1="321.55" y1="193.61" x2="325.35" y2="193.61" stroke="#ff2a2a" stroke-width="0.9" />
<rect x="321.90" y="187.93" width="3.10" height="3.10" fill="#fff" stroke="#ff2a2a" stroke-width="0.9"/>
<line x1="328.40" y1="172.29" x2="328.40" y2="180.54" stroke="#ff2a2a" stroke-width="0.9" />
<line x1="326.50" y1="172.29" x2="330.30" y2="172.29" stroke="#ff2a2a" stroke-width="0.9" />
<line x1="326.50" y1="180.54" x2="330.30" y2="180.54" stroke="#ff2a2a" stroke-width="0.9" />
<rect x="326.85" y="174.86" width="3.10" height="3.10" fill="#fff" stroke="#ff2a2a" stroke-width="0.9"/>
<line x1="333.35" y1="157.70" x2="333.35" y2="174.21" stroke="#ff2a2a" stroke-width="0.9" />
<line x1="331.45" y1="157.70" x2="335.25" y2="157.70" stroke="#ff2a2a" stroke-width="0.9" />
<line x1="331.45" y1="174.21" x2="335.25" y2="174.21" stroke="#ff2a2a" stroke-width="0.9" />
<rect x="331.80" y="164.41" width="3.10" height="3.10" fill="#fff" stroke="#ff2a2a" stroke-width="0.9"/>
<line x1="338.30" y1="163.62" x2="338.30" y2="169.12" stroke="#ff2a2a" stroke-width="0.9" />
<line x1="336.40" y1="163.62" x2="340.20" y2="163.62" stroke="#ff2a2a" stroke-width="0.9" />
<line x1="336.40" y1="169.12" x2="340.20" y2="169.12" stroke="#ff2a2a" stroke-width="0.9" />
<rect x="336.75" y="164.82" width="3.10" height="3.10" fill="#fff" stroke="#ff2a2a" stroke-width="0.9"/>
<line x1="229.40" y1="232.68" x2="229.40" y2="238.18" stroke="#0010ff" stroke-width="0.9" />
<line x1="227.20" y1="232.68" x2="231.60" y2="232.68" stroke="#0010ff" stroke-width="0.9" />
<line x1="227.20" y1="238.18" x2="231.60" y2="238.18" stroke="#0010ff" stroke-width="0.9" />
<circle cx="229.40" cy="235.43" r="2.10" fill="#0010ff"/>
<line x1="269.00" y1="231.03" x2="269.00" y2="237.91" stroke="#0010ff" stroke-width="0.9" />
<line x1="266.80" y1="231.03" x2="271.20" y2="231.03" stroke="#0010ff" stroke-width="0.9" />
<line x1="266.80" y1="237.91" x2="271.20" y2="237.91" stroke="#0010ff" stroke-width="0.9" />
<circle cx="269.00" cy="234.47" r="2.10" fill="#0010ff"/>
<line x1="273.95" y1="233.09" x2="273.95" y2="235.84" stroke="#0010ff" stroke-width="0.9" />
<line x1="271.75" y1="233.09" x2="276.15" y2="233.09" stroke="#0010ff" stroke-width="0.9" />
<line x1="271.75" y1="235.84" x2="276.15" y2="235.84" stroke="#0010ff" stroke-width="0.9" />
<circle cx="273.95" cy="234.47" r="2.10" fill="#0010ff"/>
<line x1="278.90" y1="238.59" x2="278.90" y2="242.72" stroke="#0010ff" stroke-width="0.9" />
<line x1="276.70" y1="238.59" x2="281.10" y2="238.59" stroke="#0010ff" stroke-width="0.9" />
<line x1="276.70" y1="242.72" x2="281.10" y2="242.72" stroke="#0010ff" stroke-width="0.9" />
<circle cx="278.90" cy="240.66" r="2.10" fill="#0010ff"/>
<line x1="283.85" y1="233.92" x2="283.85" y2="239.42" stroke="#0010ff" stroke-width="0.9" />
<line x1="281.65" y1="233.92" x2="286.05" y2="233.92" stroke="#0010ff" stroke-width="0.9" />
<line x1="281.65" y1="239.42" x2="286.05" y2="239.42" stroke="#0010ff" stroke-width="0.9" />
<circle cx="283.85" cy="236.67" r="2.10" fill="#0010ff"/>
<line x1="288.80" y1="225.39" x2="288.80" y2="232.27" stroke="#0010ff" stroke-width="0.9" />
<line x1="286.60" y1="225.39" x2="291.00" y2="225.39" stroke="#0010ff" stroke-width="0.9" />
<line x1="286.60" y1="232.27" x2="291.00" y2="232.27" stroke="#0010ff" stroke-width="0.9" />
<circle cx="288.80" cy="228.83" r="2.10" fill="#0010ff"/>
<line x1="293.75" y1="231.30" x2="293.75" y2="235.43" stroke="#0010ff" stroke-width="0.9" />
<line x1="291.55" y1="231.30" x2="295.95" y2="231.30" stroke="#0010ff" stroke-width="0.9" />
<line x1="291.55" y1="235.43" x2="295.95" y2="235.43" stroke="#0010ff" stroke-width="0.9" />
<circle cx="293.75" cy="233.37" r="2.10" fill="#0010ff"/>
<line x1="298.70" y1="231.44" x2="298.70" y2="234.19" stroke="#0010ff" stroke-width="0.9" />
<line x1="296.50" y1="231.44" x2="300.90" y2="231.44" stroke="#0010ff" stroke-width="0.9" />
<line x1="296.50" y1="234.19" x2="300.90" y2="234.19" stroke="#0010ff" stroke-width="0.9" />
<circle cx="298.70" cy="232.82" r="2.10" fill="#0010ff"/>
<line x1="303.65" y1="224.01" x2="303.65" y2="229.52" stroke="#0010ff" stroke-width="0.9" />
<line x1="301.45" y1="224.01" x2="305.85" y2="224.01" stroke="#0010ff" stroke-width="0.9" />
<line x1="301.45" y1="229.52" x2="305.85" y2="229.52" stroke="#0010ff" stroke-width="0.9" />
<circle cx="303.65" cy="226.76" r="2.10" fill="#0010ff"/>
<line x1="308.60" y1="215.48" x2="308.60" y2="226.49" stroke="#0010ff" stroke-width="0.9" />
<line x1="306.40" y1="215.48" x2="310.80" y2="215.48" stroke="#0010ff" stroke-width="0.9" />
<line x1="306.40" y1="226.49" x2="310.80" y2="226.49" stroke="#0010ff" stroke-width="0.9" />
<circle cx="308.60" cy="220.99" r="2.10" fill="#0010ff"/>
<line x1="313.55" y1="209.29" x2="313.55" y2="220.30" stroke="#0010ff" stroke-width="0.9" />
<line x1="311.35" y1="209.29" x2="315.75" y2="209.29" stroke="#0010ff" stroke-width="0.9" />
<line x1="311.35" y1="220.30" x2="315.75" y2="220.30" stroke="#0010ff" stroke-width="0.9" />
<circle cx="313.55" cy="214.80" r="2.10" fill="#0010ff"/>
<line x1="318.50" y1="201.04" x2="318.50" y2="209.29" stroke="#0010ff" stroke-width="0.9" />
<line x1="316.30" y1="201.04" x2="320.70" y2="201.04" stroke="#0010ff" stroke-width="0.9" />
<line x1="316.30" y1="209.29" x2="320.70" y2="209.29" stroke="#0010ff" stroke-width="0.9" />
<circle cx="318.50" cy="205.17" r="2.10" fill="#0010ff"/>
<line x1="323.45" y1="196.64" x2="323.45" y2="202.14" stroke="#0010ff" stroke-width="0.9" />
<line x1="321.25" y1="196.64" x2="325.65" y2="196.64" stroke="#0010ff" stroke-width="0.9" />
<line x1="321.25" y1="202.14" x2="325.65" y2="202.14" stroke="#0010ff" stroke-width="0.9" />
<circle cx="323.45" cy="199.39" r="2.10" fill="#0010ff"/>
<line x1="328.40" y1="184.25" x2="328.40" y2="192.51" stroke="#0010ff" stroke-width="0.9" />
<line x1="326.20" y1="184.25" x2="330.60" y2="184.25" stroke="#0010ff" stroke-width="0.9" />
<line x1="326.20" y1="192.51" x2="330.60" y2="192.51" stroke="#0010ff" stroke-width="0.9" />
<circle cx="328.40" cy="188.38" r="2.10" fill="#0010ff"/>
<line x1="333.35" y1="171.46" x2="333.35" y2="182.47" stroke="#0010ff" stroke-width="0.9" />
<line x1="331.15" y1="171.46" x2="335.55" y2="171.46" stroke="#0010ff" stroke-width="0.9" />
<line x1="331.15" y1="182.47" x2="335.55" y2="182.47" stroke="#0010ff" stroke-width="0.9" />
<circle cx="333.35" cy="176.96" r="2.10" fill="#0010ff"/>
<line x1="338.30" y1="175.31" x2="338.30" y2="182.19" stroke="#0010ff" stroke-width="0.9" />
<line x1="336.10" y1="175.31" x2="340.50" y2="175.31" stroke="#0010ff" stroke-width="0.9" />
<line x1="336.10" y1="182.19" x2="340.50" y2="182.19" stroke="#0010ff" stroke-width="0.9" />
<circle cx="338.30" cy="178.75" r="2.10" fill="#0010ff"/>
<circle cx="231.60" cy="156.80" r="2.10" fill="#0010ff"/>
<text x="236.70" y="159.20" font-family="Liberation Sans" font-weight="bold" font-size="6.7" text-anchor="start" fill="#111" stroke="#111" stroke-width="0.5" >Sham</text>
<rect x="228.10" y="164.00" width="4.8" height="3.4" rx="0.8" fill="#ff7070"/>
<text x="235.40" y="168.10" font-family="Liberation Sans" font-weight="bold" font-size="6.7" text-anchor="start" fill="#111" stroke="#111" stroke-width="0.5" >4 W/kg</text>
<line x1="34.50" y1="292.80" x2="34.50" y2="390.00" stroke="#111" stroke-width="1.0" />
<line x1="32.30" y1="390.00" x2="34.90" y2="390.00" stroke="#111" stroke-width="1.0" />
<text x="31.90" y="392.73" font-family="Liberation Sans" font-weight="bold" font-size="7.7" text-anchor="end" fill="#111" stroke="#111" stroke-width="0.5" >0.1</text>
<line x1="32.30" y1="365.70" x2="34.90" y2="365.70" stroke="#111" stroke-width="1.0" />
<text x="31.90" y="368.43" font-family="Liberation Sans" font-weight="bold" font-size="7.7" text-anchor="end" fill="#111" stroke="#111" stroke-width="0.5" >0.2</text>
<line x1="32.30" y1="341.40" x2="34.90" y2="341.40" stroke="#111" stroke-width="1.0" />
<text x="31.90" y="344.13" font-family="Liberation Sans" font-weight="bold" font-size="7.7" text-anchor="end" fill="#111" stroke="#111" stroke-width="0.5" >0.3</text>
<line x1="32.30" y1="317.10" x2="34.90" y2="317.10" stroke="#111" stroke-width="1.0" />
<text x="31.90" y="319.83" font-family="Liberation Sans" font-weight="bold" font-size="7.7" text-anchor="end" fill="#111" stroke="#111" stroke-width="0.5" >0.4</text>
<line x1="32.30" y1="292.80" x2="34.90" y2="292.80" stroke="#111" stroke-width="1.0" />
<text x="31.90" y="295.53" font-family="Liberation Sans" font-weight="bold" font-size="7.7" text-anchor="end" fill="#111" stroke="#111" stroke-width="0.5" >0.5</text>
<line x1="41.20" y1="396.30" x2="166.20" y2="396.30" stroke="#111" stroke-width="1.0" />
<line x1="41.70" y1="396.30" x2="41.70" y2="398.50" stroke="#111" stroke-width="1.0" />
<text x="41.40" y="405.70" font-family="Liberation Sans" font-weight="bold" font-size="7.7" text-anchor="middle" fill="#111" stroke="#111" stroke-width="0.5" >-12</text>
<line x1="66.50" y1="396.30" x2="66.50" y2="398.50" stroke="#111" stroke-width="1.0" />
<text x="66.20" y="405.70" font-family="Liberation Sans" font-weight="bold" font-size="7.7" text-anchor="middle" fill="#111" stroke="#111" stroke-width="0.5" >-10</text>
<line x1="91.30" y1="396.30" x2="91.30" y2="398.50" stroke="#111" stroke-width="1.0" />
<text x="91.00" y="405.70" font-family="Liberation Sans" font-weight="bold" font-size="7.7" text-anchor="middle" fill="#111" stroke="#111" stroke-width="0.5" >-8</text>
<line x1="116.10" y1="396.30" x2="116.10" y2="398.50" stroke="#111" stroke-width="1.0" />
<text x="115.80" y="405.70" font-family="Liberation Sans" font-weight="bold" font-size="7.7" text-anchor="middle" fill="#111" stroke="#111" stroke-width="0.5" >-6</text>
<line x1="140.90" y1="396.30" x2="140.90" y2="398.50" stroke="#111" stroke-width="1.0" />
<text x="140.60" y="405.70" font-family="Liberation Sans" font-weight="bold" font-size="7.7" text-anchor="middle" fill="#111" stroke="#111" stroke-width="0.5" >-4</text>
<line x1="165.70" y1="396.30" x2="165.70" y2="398.50" stroke="#111" stroke-width="1.0" />
<text x="165.40" y="405.70" font-family="Liberation Sans" font-weight="bold" font-size="7.7" text-anchor="middle" fill="#111" stroke="#111" stroke-width="0.5" >-2</text>
<text x="103.20" y="416.50" font-family="Liberation Sans" font-weight="bold" font-size="7.5" text-anchor="middle" fill="#111" stroke="#111" stroke-width="0.5">Log[Antimycin A] (Log <tspan font-style="italic">M</tspan>)</text>
<text transform="translate(15.00,336.60) rotate(-90)" font-family="Liberation Sans" font-weight="bold" font-size="7.5" text-anchor="middle" fill="#111" stroke="#111" stroke-width="0.5">Net BRET</text>
<text x="5.00" y="286.00" font-family="Liberation Serif" font-weight="bold" font-size="13" text-anchor="start" fill="#111" stroke="#111" stroke-width="0.5" >E</text>
<path d="M41.70,374.95 L43.23,374.95 L44.76,374.95 L46.28,374.95 L47.81,374.95 L49.34,374.95 L50.87,374.95 L52.39,374.95 L53.92,374.95 L55.45,374.95 L56.98,374.95 L58.50,374.95 L60.03,374.95 L61.56,374.95 L63.09,374.95 L64.61,374.95 L66.14,374.95 L67.67,374.95 L69.20,374.95 L70.72,374.95 L72.25,374.95 L73.78,374.95 L75.31,374.95 L76.83,374.95 L78.36,374.95 L79.89,374.95 L81.42,374.95 L82.94,374.95 L84.47,374.95 L86.00,374.95 L87.53,374.95 L89.05,374.95 L90.58,374.95 L92.11,374.95 L93.64,374.95 L95.16,374.95 L96.69,374.95 L98.22,374.95 L99.75,374.95 L101.27,374.95 L102.80,374.94 L104.33,374.94 L105.86,374.94 L107.38,374.94 L108.91,374.94 L110.44,374.94 L111.97,374.94 L113.49,374.93 L115.02,374.92 L116.55,374.91 L118.08,374.89 L119.60,374.87 L121.13,374.83 L122.66,374.77 L124.19,374.69 L125.71,374.56 L127.24,374.38 L128.77,374.10 L130.30,373.69 L131.82,373.08 L133.35,372.19 L134.88,370.88 L136.41,368.99 L137.93,366.28 L139.46,362.48 L140.99,357.28 L142.52,350.41 L144.04,341.75 L145.57,331.47 L147.10,320.05" fill="none" stroke="#ff2424" stroke-width="1.2"/>
<path d="M41.70,369.11 L43.23,369.11 L44.76,369.11 L46.28,369.11 L47.81,369.11 L49.34,369.11 L50.87,369.11 L52.39,369.11 L53.92,369.11 L55.45,369.11 L56.98,369.11 L58.50,369.11 L60.03,369.11 L61.56,369.11 L63.09,369.11 L64.61,369.11 L66.14,369.11 L67.67,369.11 L69.20,369.11 L70.72,369.11 L72.25,369.11 L73.78,369.11 L75.31,369.11 L76.83,369.11 L78.36,369.11 L79.89,369.11 L81.42,369.11 L82.94,369.11 L84.47,369.11 L86.00,369.11 L87.53,369.11 L89.05,369.11 L90.58,369.11 L92.11,369.11 L93.64,369.11 L95.16,369.11 L96.69,369.11 L98.22,369.11 L99.75,369.11 L101.27,369.11 L102.80,369.11 L104.33,369.11 L105.86,369.10 L107.38,369.10 L108.91,369.09 L110.44,369.09 L111.97,369.07 L113.49,369.06 L115.02,369.03 L116.55,369.00 L118.08,368.95 L119.60,368.89 L121.13,368.80 L122.66,368.67 L124.19,368.49 L125.71,368.25 L127.24,367.90 L128.77,367.42 L130.30,366.76 L131.82,365.85 L133.35,364.61 L134.88,362.93 L136.41,360.70 L137.93,357.79 L139.46,354.09 L140.99,349.52 L142.52,344.11 L144.04,337.97 L145.57,331.37 L147.10,324.66" fill="none" stroke="#0818ff" stroke-width="1.2"/>
<line x1="41.70" y1="374.69" x2="41.70" y2="379.55" stroke="#ff2a2a" stroke-width="0.9" />
<line x1="39.80" y1="374.69" x2="43.60" y2="374.69" stroke="#ff2a2a" stroke-width="0.9" />
<line x1="39.80" y1="379.55" x2="43.60" y2="379.55" stroke="#ff2a2a" stroke-width="0.9" />
<rect x="40.15" y="375.57" width="3.10" height="3.10" fill="#fff" stroke="#ff2a2a" stroke-width="0.9"/>
<line x1="116.10" y1="369.10" x2="116.10" y2="373.96" stroke="#ff2a2a" stroke-width="0.9" />
<line x1="114.20" y1="369.10" x2="118.00" y2="369.10" stroke="#ff2a2a" stroke-width="0.9" />
<line x1="114.20" y1="373.96" x2="118.00" y2="373.96" stroke="#ff2a2a" stroke-width="0.9" />
<rect x="114.55" y="369.98" width="3.10" height="3.10" fill="#fff" stroke="#ff2a2a" stroke-width="0.9"/>
<line x1="122.30" y1="368.13" x2="122.30" y2="372.99" stroke="#ff2a2a" stroke-width="0.9" />
<line x1="120.40" y1="368.13" x2="124.20" y2="368.13" stroke="#ff2a2a" stroke-width="0.9" />
<line x1="120.40" y1="372.99" x2="124.20" y2="372.99" stroke="#ff2a2a" stroke-width="0.9" />
<rect x="120.75" y="369.01" width="3.10" height="3.10" fill="#fff" stroke="#ff2a2a" stroke-width="0.9"/>
<line x1="128.50" y1="371.29" x2="128.50" y2="376.15" stroke="#ff2a2a" stroke-width="0.9" />
<line x1="126.60" y1="371.29" x2="130.40" y2="371.29" stroke="#ff2a2a" stroke-width="0.9" />
<line x1="126.60" y1="376.15" x2="130.40" y2="376.15" stroke="#ff2a2a" stroke-width="0.9" />
<rect x="126.95" y="372.17" width="3.10" height="3.10" fill="#fff" stroke="#ff2a2a" stroke-width="0.9"/>
<line x1="134.70" y1="370.56" x2="134.70" y2="374.45" stroke="#ff2a2a" stroke-width="0.9" />
<line x1="132.80" y1="370.56" x2="136.60" y2="370.56" stroke="#ff2a2a" stroke-width="0.9" />
<line x1="132.80" y1="374.45" x2="136.60" y2="374.45" stroke="#ff2a2a" stroke-width="0.9" />
<rect x="133.15" y="370.95" width="3.10" height="3.10" fill="#fff" stroke="#ff2a2a" stroke-width="0.9"/>
<line x1="140.90" y1="357.19" x2="140.90" y2="364.49" stroke="#ff2a2a" stroke-width="0.9" />
<line x1="139.00" y1="357.19" x2="142.80" y2="357.19" stroke="#ff2a2a" stroke-width="0.9" />
<line x1="139.00" y1="364.49" x2="142.80" y2="364.49" stroke="#ff2a2a" stroke-width="0.9" />
<rect x="139.35" y="359.29" width="3.10" height="3.10" fill="#fff" stroke="#ff2a2a" stroke-width="0.9"/>
<line x1="147.10" y1="314.18" x2="147.10" y2="328.76" stroke="#ff2a2a" stroke-width="0.9" />
<line x1="145.20" y1="314.18" x2="149.00" y2="314.18" stroke="#ff2a2a" stroke-width="0.9" />
<line x1="145.20" y1="328.76" x2="149.00" y2="328.76" stroke="#ff2a2a" stroke-width="0.9" />
<rect x="145.55" y="319.92" width="3.10" height="3.10" fill="#fff" stroke="#ff2a2a" stroke-width="0.9"/>
<line x1="41.70" y1="367.64" x2="41.70" y2="372.50" stroke="#0010ff" stroke-width="0.9" />
<line x1="39.50" y1="367.64" x2="43.90" y2="367.64" stroke="#0010ff" stroke-width="0.9" />
<line x1="39.50" y1="372.50" x2="43.90" y2="372.50" stroke="#0010ff" stroke-width="0.9" />
<circle cx="41.70" cy="370.07" r="2.35" fill="#0010ff"/>
<line x1="116.10" y1="365.46" x2="116.10" y2="370.32" stroke="#0010ff" stroke-width="0.9" />
<line x1="113.90" y1="365.46" x2="118.30" y2="365.46" stroke="#0010ff" stroke-width="0.9" />
<line x1="113.90" y1="370.32" x2="118.30" y2="370.32" stroke="#0010ff" stroke-width="0.9" />
<circle cx="116.10" cy="367.89" r="2.35" fill="#0010ff"/>
<line x1="122.30" y1="366.43" x2="122.30" y2="371.29" stroke="#0010ff" stroke-width="0.9" />
<line x1="120.10" y1="366.43" x2="124.50" y2="366.43" stroke="#0010ff" stroke-width="0.9" />
<line x1="120.10" y1="371.29" x2="124.50" y2="371.29" stroke="#0010ff" stroke-width="0.9" />
<circle cx="122.30" cy="368.86" r="2.35" fill="#0010ff"/>
<line x1="128.50" y1="361.57" x2="128.50" y2="368.86" stroke="#0010ff" stroke-width="0.9" />
<line x1="126.30" y1="361.57" x2="130.70" y2="361.57" stroke="#0010ff" stroke-width="0.9" />
<line x1="126.30" y1="368.86" x2="130.70" y2="368.86" stroke="#0010ff" stroke-width="0.9" />
<circle cx="128.50" cy="365.21" r="2.35" fill="#0010ff"/>
<line x1="134.70" y1="361.08" x2="134.70" y2="365.94" stroke="#0010ff" stroke-width="0.9" />
<line x1="132.50" y1="361.08" x2="136.90" y2="361.08" stroke="#0010ff" stroke-width="0.9" />
<line x1="132.50" y1="365.94" x2="136.90" y2="365.94" stroke="#0010ff" stroke-width="0.9" />
<circle cx="134.70" cy="363.51" r="2.35" fill="#0010ff"/>
<line x1="140.90" y1="344.32" x2="140.90" y2="354.04" stroke="#0010ff" stroke-width="0.9" />
<line x1="138.70" y1="344.32" x2="143.10" y2="344.32" stroke="#0010ff" stroke-width="0.9" />
<line x1="138.70" y1="354.04" x2="143.10" y2="354.04" stroke="#0010ff" stroke-width="0.9" />
<circle cx="140.90" cy="349.18" r="2.35" fill="#0010ff"/>
<line x1="147.10" y1="316.61" x2="147.10" y2="333.62" stroke="#0010ff" stroke-width="0.9" />
<line x1="144.90" y1="316.61" x2="149.30" y2="316.61" stroke="#0010ff" stroke-width="0.9" />
<line x1="144.90" y1="333.62" x2="149.30" y2="333.62" stroke="#0010ff" stroke-width="0.9" />
<circle cx="147.10" cy="325.12" r="2.35" fill="#0010ff"/>
<circle cx="45.30" cy="296.40" r="2.35" fill="#0010ff"/>
<text x="50.40" y="298.80" font-family="Liberation Sans" font-weight="bold" font-size="7.0" text-anchor="start" fill="#111" stroke="#111" stroke-width="0.5" >Sham</text>
<line x1="42.40" y1="306.30" x2="48.20" y2="306.30" stroke="#ff2a2a" stroke-width="1.0" />
<rect x="43.70" y="304.50" width="3.20" height="3.60" rx="0.3" fill="none" stroke="#ff2a2a" stroke-width="0.9"/>
<text x="50.40" y="308.70" font-family="Liberation Sans" font-weight="bold" font-size="7.0" text-anchor="start" fill="#111" stroke="#111" stroke-width="0.5" >0.08 W/kg</text>
<line x1="223.80" y1="293.20" x2="223.80" y2="391.00" stroke="#555" stroke-width="1.0" />
<line x1="221.60" y1="391.00" x2="224.20" y2="391.00" stroke="#555" stroke-width="1.0" />
<text x="221.20" y="393.73" font-family="Liberation Sans" font-weight="bold" font-size="7.7" text-anchor="end" fill="#111" stroke="#111" stroke-width="0.5" >0.1</text>
<line x1="221.60" y1="366.55" x2="224.20" y2="366.55" stroke="#555" stroke-width="1.0" />
<text x="221.20" y="369.28" font-family="Liberation Sans" font-weight="bold" font-size="7.7" text-anchor="end" fill="#111" stroke="#111" stroke-width="0.5" >0.2</text>
<line x1="221.60" y1="342.10" x2="224.20" y2="342.10" stroke="#555" stroke-width="1.0" />
<text x="221.20" y="344.83" font-family="Liberation Sans" font-weight="bold" font-size="7.7" text-anchor="end" fill="#111" stroke="#111" stroke-width="0.5" >0.3</text>
<line x1="221.60" y1="317.65" x2="224.20" y2="317.65" stroke="#555" stroke-width="1.0" />
<text x="221.20" y="320.38" font-family="Liberation Sans" font-weight="bold" font-size="7.7" text-anchor="end" fill="#111" stroke="#111" stroke-width="0.5" >0.4</text>
<line x1="221.60" y1="293.20" x2="224.20" y2="293.20" stroke="#555" stroke-width="1.0" />
<text x="221.20" y="295.93" font-family="Liberation Sans" font-weight="bold" font-size="7.7" text-anchor="end" fill="#111" stroke="#111" stroke-width="0.5" >0.5</text>
<line x1="230.70" y1="397.30" x2="354.70" y2="397.30" stroke="#333" stroke-width="1.0" />
<line x1="231.20" y1="397.30" x2="231.20" y2="399.50" stroke="#333" stroke-width="1.0" />
<text x="231.50" y="407.20" font-family="Liberation Sans" font-weight="bold" font-size="7.7" text-anchor="middle" fill="#111" stroke="#111" stroke-width="0.5" >-12</text>
<line x1="255.80" y1="397.30" x2="255.80" y2="399.50" stroke="#333" stroke-width="1.0" />
<text x="256.10" y="407.20" font-family="Liberation Sans" font-weight="bold" font-size="7.7" text-anchor="middle" fill="#111" stroke="#111" stroke-width="0.5" >-10</text>
<line x1="280.40" y1="397.30" x2="280.40" y2="399.50" stroke="#333" stroke-width="1.0" />
<text x="280.70" y="407.20" font-family="Liberation Sans" font-weight="bold" font-size="7.7" text-anchor="middle" fill="#111" stroke="#111" stroke-width="0.5" >-8</text>
<line x1="305.00" y1="397.30" x2="305.00" y2="399.50" stroke="#333" stroke-width="1.0" />
<text x="305.30" y="407.20" font-family="Liberation Sans" font-weight="bold" font-size="7.7" text-anchor="middle" fill="#111" stroke="#111" stroke-width="0.5" >-6</text>
<line x1="329.60" y1="397.30" x2="329.60" y2="399.50" stroke="#333" stroke-width="1.0" />
<text x="329.90" y="407.20" font-family="Liberation Sans" font-weight="bold" font-size="7.7" text-anchor="middle" fill="#111" stroke="#111" stroke-width="0.5" >-4</text>
<line x1="354.20" y1="397.30" x2="354.20" y2="399.50" stroke="#333" stroke-width="1.0" />
<text x="354.50" y="407.20" font-family="Liberation Sans" font-weight="bold" font-size="7.7" text-anchor="middle" fill="#111" stroke="#111" stroke-width="0.5" >-2</text>
<text x="292.00" y="417.50" font-family="Liberation Sans" font-weight="bold" font-size="7.5" text-anchor="middle" fill="#111" stroke="#111" stroke-width="0.5">Log[Antimycin A] (Log M)</text>
<text transform="translate(205.00,341.80) rotate(-90)" font-family="Liberation Sans" font-weight="bold" font-size="7.5" text-anchor="middle" fill="#111" stroke="#111" stroke-width="0.5">Net BRET</text>
<text x="198.60" y="286.00" font-family="Liberation Serif" font-weight="bold" font-size="13" text-anchor="start" fill="#111" stroke="#111" stroke-width="0.5" >F</text>
<path d="M231.20,375.14 L232.72,375.14 L234.23,375.14 L235.75,375.14 L237.26,375.14 L238.78,375.14 L240.29,375.14 L241.81,375.14 L243.32,375.14 L244.84,375.14 L246.35,375.14 L247.87,375.14 L249.38,375.14 L250.90,375.14 L252.41,375.14 L253.93,375.14 L255.44,375.14 L256.96,375.14 L258.47,375.14 L259.99,375.14 L261.50,375.14 L263.02,375.14 L264.53,375.14 L266.05,375.14 L267.57,375.14 L269.08,375.14 L270.60,375.14 L272.11,375.14 L273.63,375.14 L275.14,375.14 L276.66,375.14 L278.17,375.14 L279.69,375.14 L281.20,375.14 L282.72,375.14 L284.23,375.13 L285.75,375.13 L287.26,375.13 L288.78,375.13 L290.29,375.13 L291.81,375.12 L293.32,375.12 L294.84,375.11 L296.35,375.11 L297.87,375.09 L299.38,375.08 L300.90,375.06 L302.42,375.03 L303.93,374.99 L305.45,374.94 L306.96,374.86 L308.48,374.77 L309.99,374.64 L311.51,374.46 L313.02,374.22 L314.54,373.89 L316.05,373.45 L317.57,372.86 L319.08,372.06 L320.60,371.00 L322.11,369.59 L323.63,367.72 L325.14,365.28 L326.66,362.12 L328.17,358.09 L329.69,353.07 L331.20,346.96 L332.72,339.73 L334.23,331.48 L335.75,322.43" fill="none" stroke="#ff2424" stroke-width="1.2"/>
<path d="M231.20,369.73 L232.72,369.73 L234.23,369.73 L235.75,369.73 L237.26,369.73 L238.78,369.73 L240.29,369.73 L241.81,369.73 L243.32,369.73 L244.84,369.73 L246.35,369.73 L247.87,369.73 L249.38,369.73 L250.90,369.73 L252.41,369.73 L253.93,369.73 L255.44,369.73 L256.96,369.73 L258.47,369.73 L259.99,369.73 L261.50,369.73 L263.02,369.73 L264.53,369.73 L266.05,369.73 L267.57,369.73 L269.08,369.73 L270.60,369.73 L272.11,369.73 L273.63,369.73 L275.14,369.73 L276.66,369.73 L278.17,369.73 L279.69,369.73 L281.20,369.73 L282.72,369.73 L284.23,369.73 L285.75,369.73 L287.26,369.73 L288.78,369.72 L290.29,369.72 L291.81,369.72 L293.32,369.71 L294.84,369.71 L296.35,369.70 L297.87,369.69 L299.38,369.67 L300.90,369.65 L302.42,369.62 L303.93,369.58 L305.45,369.53 L306.96,369.46 L308.48,369.37 L309.99,369.24 L311.51,369.07 L313.02,368.85 L314.54,368.54 L316.05,368.14 L317.57,367.59 L319.08,366.87 L320.60,365.91 L322.11,364.64 L323.63,362.97 L325.14,360.80 L326.66,358.00 L328.17,354.44 L329.69,349.99 L331.20,344.56 L332.72,338.09 L334.23,330.64 L335.75,322.35" fill="none" stroke="#0818ff" stroke-width="1.2"/>
<line x1="231.20" y1="373.15" x2="231.20" y2="378.04" stroke="#ff2a2a" stroke-width="0.9" />
<line x1="229.30" y1="373.15" x2="233.10" y2="373.15" stroke="#ff2a2a" stroke-width="0.9" />
<line x1="229.30" y1="378.04" x2="233.10" y2="378.04" stroke="#ff2a2a" stroke-width="0.9" />
<rect x="229.65" y="374.05" width="3.10" height="3.10" fill="#fff" stroke="#ff2a2a" stroke-width="0.9"/>
<line x1="305.00" y1="369.73" x2="305.00" y2="374.62" stroke="#ff2a2a" stroke-width="0.9" />
<line x1="303.10" y1="369.73" x2="306.90" y2="369.73" stroke="#ff2a2a" stroke-width="0.9" />
<line x1="303.10" y1="374.62" x2="306.90" y2="374.62" stroke="#ff2a2a" stroke-width="0.9" />
<rect x="303.45" y="370.62" width="3.10" height="3.10" fill="#fff" stroke="#ff2a2a" stroke-width="0.9"/>
<line x1="311.15" y1="370.22" x2="311.15" y2="375.11" stroke="#ff2a2a" stroke-width="0.9" />
<line x1="309.25" y1="370.22" x2="313.05" y2="370.22" stroke="#ff2a2a" stroke-width="0.9" />
<line x1="309.25" y1="375.11" x2="313.05" y2="375.11" stroke="#ff2a2a" stroke-width="0.9" />
<rect x="309.60" y="371.11" width="3.10" height="3.10" fill="#fff" stroke="#ff2a2a" stroke-width="0.9"/>
<line x1="317.30" y1="370.22" x2="317.30" y2="375.11" stroke="#ff2a2a" stroke-width="0.9" />
<line x1="315.40" y1="370.22" x2="319.20" y2="370.22" stroke="#ff2a2a" stroke-width="0.9" />
<line x1="315.40" y1="375.11" x2="319.20" y2="375.11" stroke="#ff2a2a" stroke-width="0.9" />
<rect x="315.75" y="371.11" width="3.10" height="3.10" fill="#fff" stroke="#ff2a2a" stroke-width="0.9"/>
<line x1="323.45" y1="366.79" x2="323.45" y2="370.71" stroke="#ff2a2a" stroke-width="0.9" />
<line x1="321.55" y1="366.79" x2="325.35" y2="366.79" stroke="#ff2a2a" stroke-width="0.9" />
<line x1="321.55" y1="370.71" x2="325.35" y2="370.71" stroke="#ff2a2a" stroke-width="0.9" />
<rect x="321.90" y="367.20" width="3.10" height="3.10" fill="#fff" stroke="#ff2a2a" stroke-width="0.9"/>
<line x1="329.60" y1="354.08" x2="329.60" y2="361.42" stroke="#ff2a2a" stroke-width="0.9" />
<line x1="327.70" y1="354.08" x2="331.50" y2="354.08" stroke="#ff2a2a" stroke-width="0.9" />
<line x1="327.70" y1="361.42" x2="331.50" y2="361.42" stroke="#ff2a2a" stroke-width="0.9" />
<rect x="328.05" y="356.20" width="3.10" height="3.10" fill="#fff" stroke="#ff2a2a" stroke-width="0.9"/>
<line x1="335.75" y1="302.49" x2="335.75" y2="319.61" stroke="#ff2a2a" stroke-width="0.9" />
<line x1="333.85" y1="302.49" x2="337.65" y2="302.49" stroke="#ff2a2a" stroke-width="0.9" />
<line x1="333.85" y1="319.61" x2="337.65" y2="319.61" stroke="#ff2a2a" stroke-width="0.9" />
<rect x="334.20" y="309.50" width="3.10" height="3.10" fill="#fff" stroke="#ff2a2a" stroke-width="0.9"/>
<line x1="231.20" y1="368.26" x2="231.20" y2="373.15" stroke="#0010ff" stroke-width="0.9" />
<line x1="229.00" y1="368.26" x2="233.40" y2="368.26" stroke="#0010ff" stroke-width="0.9" />
<line x1="229.00" y1="373.15" x2="233.40" y2="373.15" stroke="#0010ff" stroke-width="0.9" />
<circle cx="231.20" cy="370.71" r="2.35" fill="#0010ff"/>
<line x1="305.00" y1="365.82" x2="305.00" y2="370.71" stroke="#0010ff" stroke-width="0.9" />
<line x1="302.80" y1="365.82" x2="307.20" y2="365.82" stroke="#0010ff" stroke-width="0.9" />
<line x1="302.80" y1="370.71" x2="307.20" y2="370.71" stroke="#0010ff" stroke-width="0.9" />
<circle cx="305.00" cy="368.26" r="2.35" fill="#0010ff"/>
<line x1="311.15" y1="367.28" x2="311.15" y2="372.17" stroke="#0010ff" stroke-width="0.9" />
<line x1="308.95" y1="367.28" x2="313.35" y2="367.28" stroke="#0010ff" stroke-width="0.9" />
<line x1="308.95" y1="372.17" x2="313.35" y2="372.17" stroke="#0010ff" stroke-width="0.9" />
<circle cx="311.15" cy="369.73" r="2.35" fill="#0010ff"/>
<line x1="317.30" y1="362.64" x2="317.30" y2="369.97" stroke="#0010ff" stroke-width="0.9" />
<line x1="315.10" y1="362.64" x2="319.50" y2="362.64" stroke="#0010ff" stroke-width="0.9" />
<line x1="315.10" y1="369.97" x2="319.50" y2="369.97" stroke="#0010ff" stroke-width="0.9" />
<circle cx="317.30" cy="366.31" r="2.35" fill="#0010ff"/>
<line x1="323.45" y1="362.15" x2="323.45" y2="367.04" stroke="#0010ff" stroke-width="0.9" />
<line x1="321.25" y1="362.15" x2="325.65" y2="362.15" stroke="#0010ff" stroke-width="0.9" />
<line x1="321.25" y1="367.04" x2="325.65" y2="367.04" stroke="#0010ff" stroke-width="0.9" />
<circle cx="323.45" cy="364.59" r="2.35" fill="#0010ff"/>
<line x1="329.60" y1="345.28" x2="329.60" y2="355.06" stroke="#0010ff" stroke-width="0.9" />
<line x1="327.40" y1="345.28" x2="331.80" y2="345.28" stroke="#0010ff" stroke-width="0.9" />
<line x1="327.40" y1="355.06" x2="331.80" y2="355.06" stroke="#0010ff" stroke-width="0.9" />
<circle cx="329.60" cy="350.17" r="2.35" fill="#0010ff"/>
<line x1="335.75" y1="317.41" x2="335.75" y2="334.52" stroke="#0010ff" stroke-width="0.9" />
<line x1="333.55" y1="317.41" x2="337.95" y2="317.41" stroke="#0010ff" stroke-width="0.9" />
<line x1="333.55" y1="334.52" x2="337.95" y2="334.52" stroke="#0010ff" stroke-width="0.9" />
<circle cx="335.75" cy="325.96" r="2.35" fill="#0010ff"/>
<circle cx="234.90" cy="300.50" r="2.35" fill="#0010ff"/>
<text x="240.00" y="302.90" font-family="Liberation Sans" font-weight="bold" font-size="7.0" text-anchor="start" fill="#111" stroke="#111" stroke-width="0.5" >Sham</text>
<line x1="232.00" y1="309.50" x2="237.80" y2="309.50" stroke="#ff2a2a" stroke-width="1.0" />
<rect x="233.30" y="307.70" width="3.20" height="3.60" rx="0.3" fill="none" stroke="#ff2a2a" stroke-width="0.9"/>
<text x="240.00" y="311.90" font-family="Liberation Sans" font-weight="bold" font-size="7.0" text-anchor="start" fill="#111" stroke="#111" stroke-width="0.5" >4 W/kg</text>
<text x="391.00" y="27.20" font-family="Liberation Serif" font-weight="bold" font-size="13" text-anchor="start" fill="#111" stroke="#111" stroke-width="0.5" >G</text>
<line x1="424.40" y1="36.50" x2="424.40" y2="117.00" stroke="#111" stroke-width="1.0" />
<line x1="421.60" y1="117.00" x2="424.40" y2="117.00" stroke="#111" stroke-width="1.0" />
<text x="420.70" y="119.50" font-family="Liberation Sans" font-weight="bold" font-size="6.9" text-anchor="end" fill="#111" stroke="#111" stroke-width="0.5" >0.1</text>
<line x1="421.60" y1="90.17" x2="424.40" y2="90.17" stroke="#111" stroke-width="1.0" />
<text x="420.70" y="92.67" font-family="Liberation Sans" font-weight="bold" font-size="6.9" text-anchor="end" fill="#111" stroke="#111" stroke-width="0.5" >0.2</text>
<line x1="421.60" y1="63.33" x2="424.40" y2="63.33" stroke="#111" stroke-width="1.0" />
<text x="420.70" y="65.83" font-family="Liberation Sans" font-weight="bold" font-size="6.9" text-anchor="end" fill="#111" stroke="#111" stroke-width="0.5" >0.3</text>
<line x1="421.60" y1="36.50" x2="424.40" y2="36.50" stroke="#111" stroke-width="1.0" />
<text x="420.70" y="39.00" font-family="Liberation Sans" font-weight="bold" font-size="6.9" text-anchor="end" fill="#111" stroke="#111" stroke-width="0.5" >0.4</text>
<text transform="translate(396.0,75.0) rotate(-90)" font-family="Liberation Sans" font-weight="bold" font-size="6.9" text-anchor="middle" fill="#111" stroke="#111" stroke-width="0.5">Basal BRET</text>
<line x1="430.00" y1="125.20" x2="513.00" y2="125.20" stroke="#111" stroke-width="1.0" />
<line x1="446.40" y1="125.20" x2="446.40" y2="127.60" stroke="#111" stroke-width="1.0" />
<text x="446.40" y="135.30" font-family="Liberation Sans" font-weight="bold" font-size="6.6" text-anchor="middle" fill="#111" stroke="#111" stroke-width="0.5" >0</text>
<line x1="471.30" y1="125.20" x2="471.30" y2="127.60" stroke="#111" stroke-width="1.0" />
<text x="471.30" y="135.30" font-family="Liberation Sans" font-weight="bold" font-size="6.6" text-anchor="middle" fill="#111" stroke="#111" stroke-width="0.5" >0.08</text>
<line x1="495.80" y1="125.20" x2="495.80" y2="127.60" stroke="#111" stroke-width="1.0" />
<text x="495.80" y="135.30" font-family="Liberation Sans" font-weight="bold" font-size="6.6" text-anchor="middle" fill="#111" stroke="#111" stroke-width="0.5" >4</text>
<text x="382.80" y="134.00" font-family="Liberation Sans" font-weight="bold" font-size="6.9" text-anchor="start" fill="#111" stroke="#111" stroke-width="0.5" >SAR (W/kg)</text>
<line x1="446.35" y1="51.26" x2="446.35" y2="89.36" stroke="#111" stroke-width="0.9" />
<line x1="446.35" y1="101.44" x2="446.35" y2="109.49" stroke="#111" stroke-width="0.9" />
<line x1="441.64" y1="51.26" x2="451.06" y2="51.26" stroke="#111" stroke-width="0.9" />
<line x1="441.64" y1="109.49" x2="451.06" y2="109.49" stroke="#111" stroke-width="0.9" />
<rect x="438.50" y="89.36" width="15.70" height="12.08" fill="none" stroke="#111" stroke-width="0.9"/>
<line x1="438.50" y1="96.88" x2="454.20" y2="96.88" stroke="#111" stroke-width="0.9" />
<line x1="471.40" y1="76.21" x2="471.40" y2="93.39" stroke="#111" stroke-width="0.9" />
<line x1="471.40" y1="101.70" x2="471.40" y2="110.29" stroke="#111" stroke-width="0.9" />
<line x1="466.72" y1="76.21" x2="476.08" y2="76.21" stroke="#111" stroke-width="0.9" />
<line x1="466.72" y1="110.29" x2="476.08" y2="110.29" stroke="#111" stroke-width="0.9" />
<rect x="463.60" y="93.39" width="15.60" height="8.32" fill="none" stroke="#111" stroke-width="0.9"/>
<line x1="463.60" y1="98.22" x2="479.20" y2="98.22" stroke="#111" stroke-width="0.9" />
<line x1="496.20" y1="58.50" x2="496.20" y2="86.95" stroke="#111" stroke-width="0.9" />
<line x1="496.20" y1="99.29" x2="496.20" y2="107.07" stroke="#111" stroke-width="0.9" />
<line x1="491.52" y1="58.50" x2="500.88" y2="58.50" stroke="#111" stroke-width="0.9" />
<line x1="491.52" y1="107.07" x2="500.88" y2="107.07" stroke="#111" stroke-width="0.9" />
<rect x="488.40" y="86.95" width="15.60" height="12.34" fill="none" stroke="#111" stroke-width="0.9"/>
<line x1="488.40" y1="96.61" x2="504.00" y2="96.61" stroke="#111" stroke-width="0.9" />
<text x="471.30" y="30.20" font-family="Liberation Sans" font-weight="bold" font-size="6.4" text-anchor="middle" fill="#111" stroke="#111" stroke-width="0.5" >ns</text>
<line x1="464.10" y1="33.20" x2="478.50" y2="33.20" stroke="#111" stroke-width="1.0" />
<text x="496.10" y="30.20" font-family="Liberation Sans" font-weight="bold" font-size="6.4" text-anchor="middle" fill="#111" stroke="#111" stroke-width="0.5" >ns</text>
<line x1="488.90" y1="33.20" x2="503.30" y2="33.20" stroke="#111" stroke-width="1.0" />
<text x="560.70" y="26.60" font-family="Liberation Serif" font-weight="bold" font-size="13" text-anchor="start" fill="#111" stroke="#111" stroke-width="0.5" >H</text>
<line x1="583.60" y1="36.10" x2="583.60" y2="109.30" stroke="#111" stroke-width="1.0" />
<line x1="581.20" y1="109.30" x2="583.60" y2="109.30" stroke="#111" stroke-width="1.0" />
<text x="580.40" y="111.30" font-family="Liberation Sans" font-weight="bold" font-size="5.6" text-anchor="end" fill="#111" stroke="#111" stroke-width="0.5" >1</text>
<line x1="581.20" y1="97.10" x2="583.60" y2="97.10" stroke="#111" stroke-width="1.0" />
<text x="580.40" y="99.10" font-family="Liberation Sans" font-weight="bold" font-size="5.6" text-anchor="end" fill="#111" stroke="#111" stroke-width="0.5" >2</text>
<line x1="581.20" y1="84.90" x2="583.60" y2="84.90" stroke="#111" stroke-width="1.0" />
<text x="580.40" y="86.90" font-family="Liberation Sans" font-weight="bold" font-size="5.6" text-anchor="end" fill="#111" stroke="#111" stroke-width="0.5" >3</text>
<line x1="581.20" y1="72.70" x2="583.60" y2="72.70" stroke="#111" stroke-width="1.0" />
<text x="580.40" y="74.70" font-family="Liberation Sans" font-weight="bold" font-size="5.6" text-anchor="end" fill="#111" stroke="#111" stroke-width="0.5" >4</text>
<line x1="581.20" y1="60.50" x2="583.60" y2="60.50" stroke="#111" stroke-width="1.0" />
<text x="580.40" y="62.50" font-family="Liberation Sans" font-weight="bold" font-size="5.6" text-anchor="end" fill="#111" stroke="#111" stroke-width="0.5" >5</text>
<line x1="581.20" y1="48.30" x2="583.60" y2="48.30" stroke="#111" stroke-width="1.0" />
<text x="580.40" y="50.30" font-family="Liberation Sans" font-weight="bold" font-size="5.6" text-anchor="end" fill="#111" stroke="#111" stroke-width="0.5" >6</text>
<line x1="581.20" y1="36.10" x2="583.60" y2="36.10" stroke="#111" stroke-width="1.0" />
<text x="580.40" y="38.10" font-family="Liberation Sans" font-weight="bold" font-size="5.6" text-anchor="end" fill="#111" stroke="#111" stroke-width="0.5" >7</text>
<text transform="translate(570.4,72.20) rotate(-90)" font-family="Liberation Sans" font-weight="bold" font-size="6.6" text-anchor="middle" fill="#111" stroke="#111" stroke-width="0.5">pEC<tspan font-size="5.2" dy="1.3">50</tspan></text>
<line x1="589.00" y1="116.40" x2="685.50" y2="116.40" stroke="#111" stroke-width="1.0" />
<line x1="597.50" y1="116.40" x2="597.50" y2="119.00" stroke="#111" stroke-width="1.1" />
<line x1="610.50" y1="116.40" x2="610.50" y2="119.00" stroke="#111" stroke-width="1.1" />
<line x1="623.50" y1="116.40" x2="623.50" y2="119.00" stroke="#111" stroke-width="1.1" />
<line x1="636.50" y1="116.40" x2="636.50" y2="119.00" stroke="#111" stroke-width="1.1" />
<line x1="649.50" y1="116.40" x2="649.50" y2="119.00" stroke="#111" stroke-width="1.1" />
<line x1="662.50" y1="116.40" x2="662.50" y2="119.00" stroke="#111" stroke-width="1.1" />
<line x1="675.50" y1="116.40" x2="675.50" y2="119.00" stroke="#111" stroke-width="1.1" />
<text x="597.40" y="124.90" font-family="Liberation Sans" font-weight="bold" font-size="5.9" text-anchor="middle" fill="#111" stroke="#111" stroke-width="0.5" >0</text>
<text x="610.40" y="124.90" font-family="Liberation Sans" font-weight="bold" font-size="5.9" text-anchor="middle" fill="#111" stroke="#111" stroke-width="0.5" >0.08</text>
<text x="623.50" y="124.90" font-family="Liberation Sans" font-weight="bold" font-size="5.9" text-anchor="middle" fill="#111" stroke="#111" stroke-width="0.5" >4</text>
<text x="649.50" y="124.90" font-family="Liberation Sans" font-weight="bold" font-size="5.9" text-anchor="middle" fill="#111" stroke="#111" stroke-width="0.5" >0</text>
<text x="662.60" y="124.90" font-family="Liberation Sans" font-weight="bold" font-size="5.9" text-anchor="middle" fill="#111" stroke="#111" stroke-width="0.5" >0.08</text>
<text x="675.70" y="124.90" font-family="Liberation Sans" font-weight="bold" font-size="5.9" text-anchor="middle" fill="#111" stroke="#111" stroke-width="0.5" >4</text>
<text x="543.90" y="123.20" font-family="Liberation Sans" font-weight="bold" font-size="6.0" text-anchor="start" fill="#111" stroke="#111" stroke-width="0.5" >SAR (W/kg)</text>
<line x1="596.10" y1="129.30" x2="624.80" y2="129.30" stroke="#111" stroke-width="1.0" />
<line x1="648.10" y1="129.30" x2="677.20" y2="129.30" stroke="#111" stroke-width="1.0" />
<text x="611.00" y="137.40" font-family="Liberation Sans" font-weight="bold" font-size="5.9" text-anchor="middle" fill="#111" stroke="#111" stroke-width="0.5" >H<tspan font-size="4.2" dy="1.3">2</tspan><tspan dy="-1.3">O</tspan><tspan font-size="4.2" dy="1.3">2</tspan></text>
<text x="662.60" y="139.00" font-family="Liberation Sans" font-weight="bold" font-size="5.9" text-anchor="middle" fill="#111" stroke="#111" stroke-width="0.5" >Kp372-1</text>
<line x1="597.30" y1="67.40" x2="597.30" y2="77.60" stroke="#111" stroke-width="0.9" />
<line x1="597.30" y1="90.70" x2="597.30" y2="95.40" stroke="#111" stroke-width="0.9" />
<line x1="594.80" y1="67.40" x2="599.80" y2="67.40" stroke="#111" stroke-width="0.9" />
<line x1="594.80" y1="95.40" x2="599.80" y2="95.40" stroke="#111" stroke-width="0.9" />
<rect x="593.50" y="77.60" width="7.60" height="13.10" fill="none" stroke="#111" stroke-width="0.9"/>
<line x1="593.50" y1="86.40" x2="601.10" y2="86.40" stroke="#111" stroke-width="0.9" />
<line x1="610.55" y1="81.20" x2="610.55" y2="85.90" stroke="#111" stroke-width="0.9" />
<line x1="610.55" y1="90.40" x2="610.55" y2="97.10" stroke="#111" stroke-width="0.9" />
<line x1="608.05" y1="81.20" x2="613.05" y2="81.20" stroke="#111" stroke-width="0.9" />
<line x1="608.05" y1="97.10" x2="613.05" y2="97.10" stroke="#111" stroke-width="0.9" />
<rect x="606.50" y="85.90" width="8.10" height="4.50" fill="none" stroke="#111" stroke-width="0.9"/>
<line x1="606.50" y1="88.00" x2="614.60" y2="88.00" stroke="#111" stroke-width="0.9" />
<line x1="623.80" y1="68.60" x2="623.80" y2="80.50" stroke="#111" stroke-width="0.9" />
<line x1="623.80" y1="89.20" x2="623.80" y2="93.00" stroke="#111" stroke-width="0.9" />
<line x1="621.30" y1="68.60" x2="626.30" y2="68.60" stroke="#111" stroke-width="0.9" />
<line x1="621.30" y1="93.00" x2="626.30" y2="93.00" stroke="#111" stroke-width="0.9" />
<rect x="620.00" y="80.50" width="7.60" height="8.70" fill="none" stroke="#111" stroke-width="0.9"/>
<line x1="620.00" y1="88.30" x2="627.60" y2="88.30" stroke="#111" stroke-width="0.9" />
<line x1="649.35" y1="51.30" x2="649.35" y2="60.30" stroke="#888" stroke-width="0.9" />
<line x1="649.35" y1="68.10" x2="649.35" y2="72.20" stroke="#888" stroke-width="0.9" />
<line x1="646.85" y1="51.30" x2="651.85" y2="51.30" stroke="#888" stroke-width="0.9" />
<line x1="646.85" y1="72.20" x2="651.85" y2="72.20" stroke="#888" stroke-width="0.9" />
<rect x="645.20" y="60.30" width="8.30" height="7.80" fill="none" stroke="#888" stroke-width="0.9"/>
<line x1="645.20" y1="65.50" x2="653.50" y2="65.50" stroke="#888" stroke-width="0.9" />
<line x1="662.60" y1="49.60" x2="662.60" y2="55.60" stroke="#111" stroke-width="0.9" />
<line x1="662.60" y1="71.70" x2="662.60" y2="78.10" stroke="#111" stroke-width="0.9" />
<line x1="660.10" y1="49.60" x2="665.10" y2="49.60" stroke="#111" stroke-width="0.9" />
<line x1="660.10" y1="78.10" x2="665.10" y2="78.10" stroke="#111" stroke-width="0.9" />
<rect x="658.20" y="55.60" width="8.80" height="16.10" fill="none" stroke="#111" stroke-width="0.9"/>
<line x1="658.20" y1="65.00" x2="667.00" y2="65.00" stroke="#111" stroke-width="0.9" />
<line x1="675.60" y1="53.20" x2="675.60" y2="59.10" stroke="#111" stroke-width="0.9" />
<line x1="675.60" y1="65.00" x2="675.60" y2="68.60" stroke="#111" stroke-width="0.9" />
<line x1="673.10" y1="53.20" x2="678.10" y2="53.20" stroke="#111" stroke-width="0.9" />
<line x1="673.10" y1="68.60" x2="678.10" y2="68.60" stroke="#111" stroke-width="0.9" />
<rect x="671.20" y="59.10" width="8.80" height="5.90" fill="none" stroke="#111" stroke-width="0.9"/>
<line x1="671.20" y1="61.70" x2="680.00" y2="61.70" stroke="#111" stroke-width="0.9" />
<text x="610.50" y="29.60" font-family="Liberation Sans" font-weight="bold" font-size="6.2" text-anchor="middle" fill="#111" stroke="#111" stroke-width="0.5" >ns</text>
<line x1="606.20" y1="32.40" x2="614.80" y2="32.40" stroke="#111" stroke-width="1.0" />
<text x="623.60" y="29.60" font-family="Liberation Sans" font-weight="bold" font-size="6.2" text-anchor="middle" fill="#111" stroke="#111" stroke-width="0.5" >ns</text>
<line x1="619.30" y1="32.40" x2="627.90" y2="32.40" stroke="#111" stroke-width="1.0" />
<text x="659.40" y="29.60" font-family="Liberation Sans" font-weight="bold" font-size="6.2" text-anchor="middle" fill="#111" stroke="#111" stroke-width="0.5" >ns</text>
<line x1="655.10" y1="32.40" x2="663.70" y2="32.40" stroke="#111" stroke-width="1.0" />
<text x="674.50" y="29.60" font-family="Liberation Sans" font-weight="bold" font-size="6.2" text-anchor="middle" fill="#111" stroke="#111" stroke-width="0.5" >ns</text>
<line x1="670.20" y1="32.40" x2="678.80" y2="32.40" stroke="#111" stroke-width="1.0" />
<text x="414.00" y="194.60" font-family="Liberation Serif" font-weight="bold" font-size="13" text-anchor="start" fill="#111" stroke="#111" stroke-width="0.5" >I</text>
<line x1="441.40" y1="215.50" x2="441.40" y2="333.70" stroke="#111" stroke-width="1.0" />
<line x1="438.40" y1="333.70" x2="441.40" y2="333.70" stroke="#111" stroke-width="1.0" />
<text x="437.20" y="336.30" font-family="Liberation Sans" font-weight="bold" font-size="7.2" text-anchor="end" fill="#111" stroke="#111" stroke-width="0.5" >0.2</text>
<line x1="438.40" y1="304.15" x2="441.40" y2="304.15" stroke="#111" stroke-width="1.0" />
<text x="437.20" y="306.75" font-family="Liberation Sans" font-weight="bold" font-size="7.2" text-anchor="end" fill="#111" stroke="#111" stroke-width="0.5" >0.4</text>
<line x1="438.40" y1="274.60" x2="441.40" y2="274.60" stroke="#111" stroke-width="1.0" />
<text x="437.20" y="277.20" font-family="Liberation Sans" font-weight="bold" font-size="7.2" text-anchor="end" fill="#111" stroke="#111" stroke-width="0.5" >0.6</text>
<line x1="438.40" y1="245.05" x2="441.40" y2="245.05" stroke="#111" stroke-width="1.0" />
<text x="437.20" y="247.65" font-family="Liberation Sans" font-weight="bold" font-size="7.2" text-anchor="end" fill="#111" stroke="#111" stroke-width="0.5" >0.8</text>
<line x1="438.40" y1="215.50" x2="441.40" y2="215.50" stroke="#111" stroke-width="1.0" />
<text x="437.20" y="218.10" font-family="Liberation Sans" font-weight="bold" font-size="7.2" text-anchor="end" fill="#111" stroke="#111" stroke-width="0.5" >1.0</text>
<text transform="translate(418.6,280.8) rotate(-90)" font-family="Liberation Sans" font-weight="bold" font-size="7.3" text-anchor="middle" fill="#111" stroke="#111" stroke-width="0.5">Maximal Efficacy</text>
<line x1="442.00" y1="342.50" x2="663.40" y2="342.50" stroke="#111" stroke-width="1.0" />
<line x1="451.50" y1="342.50" x2="451.50" y2="345.80" stroke="#111" stroke-width="1.1" />
<line x1="465.50" y1="342.50" x2="465.50" y2="345.80" stroke="#111" stroke-width="1.1" />
<line x1="480.50" y1="342.50" x2="480.50" y2="345.80" stroke="#111" stroke-width="1.1" />
<line x1="494.50" y1="342.50" x2="494.50" y2="345.80" stroke="#111" stroke-width="1.1" />
<line x1="508.50" y1="342.50" x2="508.50" y2="345.80" stroke="#111" stroke-width="1.1" />
<line x1="523.50" y1="342.50" x2="523.50" y2="345.80" stroke="#111" stroke-width="1.1" />
<line x1="537.50" y1="342.50" x2="537.50" y2="345.80" stroke="#111" stroke-width="1.1" />
<line x1="551.50" y1="342.50" x2="551.50" y2="345.80" stroke="#111" stroke-width="1.1" />
<line x1="566.50" y1="342.50" x2="566.50" y2="345.80" stroke="#111" stroke-width="1.1" />
<line x1="580.50" y1="342.50" x2="580.50" y2="345.80" stroke="#111" stroke-width="1.1" />
<line x1="594.50" y1="342.50" x2="594.50" y2="345.80" stroke="#111" stroke-width="1.1" />
<line x1="609.50" y1="342.50" x2="609.50" y2="345.80" stroke="#111" stroke-width="1.1" />
<line x1="623.50" y1="342.50" x2="623.50" y2="345.80" stroke="#111" stroke-width="1.1" />
<line x1="637.50" y1="342.50" x2="637.50" y2="345.80" stroke="#111" stroke-width="1.1" />
<line x1="652.50" y1="342.50" x2="652.50" y2="345.80" stroke="#111" stroke-width="1.1" />
<text x="451.30" y="353.60" font-family="Liberation Sans" font-weight="bold" font-size="7.3" text-anchor="middle" fill="#111" stroke="#111" stroke-width="0.5" >0</text>
<text x="465.66" y="353.60" font-family="Liberation Sans" font-weight="bold" font-size="7.3" text-anchor="middle" fill="#111" stroke="#111" stroke-width="0.5" >0.08</text>
<text x="480.01" y="353.60" font-family="Liberation Sans" font-weight="bold" font-size="7.3" text-anchor="middle" fill="#111" stroke="#111" stroke-width="0.5" >4</text>
<text x="508.73" y="353.60" font-family="Liberation Sans" font-weight="bold" font-size="7.3" text-anchor="middle" fill="#111" stroke="#111" stroke-width="0.5" >0</text>
<text x="523.09" y="353.60" font-family="Liberation Sans" font-weight="bold" font-size="7.3" text-anchor="middle" fill="#111" stroke="#111" stroke-width="0.5" >0.08</text>
<text x="537.44" y="353.60" font-family="Liberation Sans" font-weight="bold" font-size="7.3" text-anchor="middle" fill="#111" stroke="#111" stroke-width="0.5" >4</text>
<text x="566.16" y="353.60" font-family="Liberation Sans" font-weight="bold" font-size="7.3" text-anchor="middle" fill="#111" stroke="#111" stroke-width="0.5" >0</text>
<text x="580.51" y="353.60" font-family="Liberation Sans" font-weight="bold" font-size="7.3" text-anchor="middle" fill="#111" stroke="#111" stroke-width="0.5" >0.08</text>
<text x="594.87" y="353.60" font-family="Liberation Sans" font-weight="bold" font-size="7.3" text-anchor="middle" fill="#111" stroke="#111" stroke-width="0.5" >4</text>
<text x="623.58" y="353.60" font-family="Liberation Sans" font-weight="bold" font-size="7.3" text-anchor="middle" fill="#111" stroke="#111" stroke-width="0.5" >0</text>
<text x="637.94" y="353.60" font-family="Liberation Sans" font-weight="bold" font-size="7.3" text-anchor="middle" fill="#111" stroke="#111" stroke-width="0.5" >0.08</text>
<text x="652.30" y="353.60" font-family="Liberation Sans" font-weight="bold" font-size="7.3" text-anchor="middle" fill="#111" stroke="#111" stroke-width="0.5" >4</text>
<text x="404.60" y="353.60" font-family="Liberation Sans" font-weight="bold" font-size="7.2" text-anchor="start" fill="#111" stroke="#111" stroke-width="0.5" >SAR (W/kg)</text>
<line x1="449.30" y1="357.50" x2="482.10" y2="357.50" stroke="#111" stroke-width="1.2" />
<line x1="506.00" y1="357.50" x2="542.40" y2="357.50" stroke="#111" stroke-width="1.2" />
<line x1="562.40" y1="357.50" x2="599.80" y2="357.50" stroke="#111" stroke-width="1.2" />
<line x1="620.70" y1="357.50" x2="656.30" y2="357.50" stroke="#111" stroke-width="1.2" />
<text x="464.40" y="366.40" font-family="Liberation Sans" font-weight="bold" font-size="7.5" text-anchor="middle" fill="#111" stroke="#111" stroke-width="0.5" >H<tspan font-size="5.6" dy="2">2</tspan><tspan dy="-2">O</tspan><tspan font-size="5.6" dy="2">2</tspan></text>
<text x="522.00" y="367.60" font-family="Liberation Sans" font-weight="bold" font-size="7.3" text-anchor="middle" fill="#111" stroke="#111" stroke-width="0.5" >Kp 372-1</text>
<text x="581.80" y="367.90" font-family="Liberation Sans" font-weight="bold" font-size="7.3" text-anchor="middle" fill="#111" stroke="#111" stroke-width="0.5" >Antimycin A</text>
<text x="579.50" y="375.80" font-family="Liberation Sans" font-weight="bold" font-size="7.3" text-anchor="middle" fill="#111" stroke="#111" stroke-width="0.5" >(100 uM)</text>
<text x="638.90" y="367.30" font-family="Liberation Sans" font-weight="bold" font-size="7.3" text-anchor="middle" fill="#111" stroke="#111" stroke-width="0.5" >Antimycin A</text>
<text x="638.20" y="375.20" font-family="Liberation Sans" font-weight="bold" font-size="7.3" text-anchor="middle" fill="#111" stroke="#111" stroke-width="0.5" >(300 uM)</text>
<line x1="451.30" y1="242.83" x2="451.30" y2="276.82" stroke="#111" stroke-width="0.9" />
<line x1="451.30" y1="301.93" x2="451.30" y2="304.59" stroke="#111" stroke-width="0.9" />
<line x1="449.00" y1="242.83" x2="453.60" y2="242.83" stroke="#111" stroke-width="0.9" />
<line x1="449.00" y1="304.59" x2="453.60" y2="304.59" stroke="#111" stroke-width="0.9" />
<rect x="447.00" y="276.82" width="8.60" height="25.12" fill="none" stroke="#111" stroke-width="0.9"/>
<line x1="447.00" y1="291.30" x2="455.60" y2="291.30" stroke="#111" stroke-width="0.9" />
<line x1="465.66" y1="256.87" x2="465.66" y2="284.94" stroke="#111" stroke-width="0.9" />
<line x1="465.66" y1="298.24" x2="465.66" y2="307.84" stroke="#111" stroke-width="0.9" />
<line x1="463.36" y1="256.87" x2="467.96" y2="256.87" stroke="#111" stroke-width="0.9" />
<line x1="463.36" y1="307.84" x2="467.96" y2="307.84" stroke="#111" stroke-width="0.9" />
<rect x="461.36" y="284.94" width="8.60" height="13.30" fill="none" stroke="#111" stroke-width="0.9"/>
<line x1="461.36" y1="294.84" x2="469.96" y2="294.84" stroke="#111" stroke-width="0.9" />
<line x1="480.01" y1="236.92" x2="480.01" y2="275.34" stroke="#111" stroke-width="0.9" />
<line x1="480.01" y1="290.11" x2="480.01" y2="296.02" stroke="#111" stroke-width="0.9" />
<line x1="477.71" y1="236.92" x2="482.31" y2="236.92" stroke="#111" stroke-width="0.9" />
<line x1="477.71" y1="296.02" x2="482.31" y2="296.02" stroke="#111" stroke-width="0.9" />
<rect x="475.71" y="275.34" width="8.60" height="14.77" fill="none" stroke="#111" stroke-width="0.9"/>
<line x1="475.71" y1="288.64" x2="484.31" y2="288.64" stroke="#111" stroke-width="0.9" />
<line x1="508.73" y1="250.66" x2="508.73" y2="273.86" stroke="#111" stroke-width="0.9" />
<line x1="508.73" y1="299.72" x2="508.73" y2="307.11" stroke="#111" stroke-width="0.9" />
<line x1="506.43" y1="250.66" x2="511.03" y2="250.66" stroke="#111" stroke-width="0.9" />
<line x1="506.43" y1="307.11" x2="511.03" y2="307.11" stroke="#111" stroke-width="0.9" />
<rect x="504.43" y="273.86" width="8.60" height="25.86" fill="none" stroke="#111" stroke-width="0.9"/>
<line x1="504.43" y1="291.89" x2="513.03" y2="291.89" stroke="#111" stroke-width="0.9" />
<line x1="523.09" y1="249.04" x2="523.09" y2="257.46" stroke="#111" stroke-width="0.9" />
<line x1="523.09" y1="300.46" x2="523.09" y2="311.24" stroke="#111" stroke-width="0.9" />
<line x1="520.79" y1="249.04" x2="525.38" y2="249.04" stroke="#111" stroke-width="0.9" />
<line x1="520.79" y1="311.24" x2="525.38" y2="311.24" stroke="#111" stroke-width="0.9" />
<rect x="518.79" y="257.46" width="8.60" height="43.00" fill="none" stroke="#111" stroke-width="0.9"/>
<line x1="518.79" y1="282.58" x2="527.38" y2="282.58" stroke="#111" stroke-width="0.9" />
<line x1="537.44" y1="260.86" x2="537.44" y2="273.86" stroke="#111" stroke-width="0.9" />
<line x1="537.44" y1="296.32" x2="537.44" y2="300.46" stroke="#111" stroke-width="0.9" />
<line x1="535.14" y1="260.86" x2="539.74" y2="260.86" stroke="#111" stroke-width="0.9" />
<line x1="535.14" y1="300.46" x2="539.74" y2="300.46" stroke="#111" stroke-width="0.9" />
<rect x="533.14" y="273.86" width="8.60" height="22.46" fill="none" stroke="#111" stroke-width="0.9"/>
<line x1="533.14" y1="284.35" x2="541.74" y2="284.35" stroke="#111" stroke-width="0.9" />
<line x1="566.16" y1="288.64" x2="566.16" y2="294.69" stroke="#111" stroke-width="0.9" />
<line x1="566.16" y1="311.24" x2="566.16" y2="319.66" stroke="#111" stroke-width="0.9" />
<line x1="563.86" y1="288.64" x2="568.46" y2="288.64" stroke="#111" stroke-width="0.9" />
<line x1="563.86" y1="319.66" x2="568.46" y2="319.66" stroke="#111" stroke-width="0.9" />
<rect x="561.86" y="294.69" width="8.60" height="16.55" fill="none" stroke="#111" stroke-width="0.9"/>
<line x1="561.86" y1="299.72" x2="570.46" y2="299.72" stroke="#111" stroke-width="0.9" />
<line x1="580.51" y1="301.19" x2="580.51" y2="304.89" stroke="#111" stroke-width="0.9" />
<line x1="580.51" y1="315.97" x2="580.51" y2="318.19" stroke="#111" stroke-width="0.9" />
<line x1="578.21" y1="301.19" x2="582.81" y2="301.19" stroke="#111" stroke-width="0.9" />
<line x1="578.21" y1="318.19" x2="582.81" y2="318.19" stroke="#111" stroke-width="0.9" />
<rect x="576.21" y="304.89" width="8.60" height="11.08" fill="none" stroke="#111" stroke-width="0.9"/>
<line x1="576.21" y1="306.37" x2="584.81" y2="306.37" stroke="#111" stroke-width="0.9" />
<line x1="594.87" y1="300.46" x2="594.87" y2="302.67" stroke="#111" stroke-width="0.9" />
<line x1="594.87" y1="313.16" x2="594.87" y2="315.97" stroke="#111" stroke-width="0.9" />
<line x1="592.57" y1="300.46" x2="597.17" y2="300.46" stroke="#111" stroke-width="0.9" />
<line x1="592.57" y1="315.97" x2="597.17" y2="315.97" stroke="#111" stroke-width="0.9" />
<rect x="590.57" y="302.67" width="8.60" height="10.49" fill="none" stroke="#111" stroke-width="0.9"/>
<line x1="590.57" y1="305.78" x2="599.17" y2="305.78" stroke="#111" stroke-width="0.9" />
<line x1="623.58" y1="267.51" x2="623.58" y2="277.56" stroke="#111" stroke-width="0.9" />
<line x1="623.58" y1="294.84" x2="623.58" y2="314.94" stroke="#111" stroke-width="0.9" />
<line x1="621.28" y1="267.51" x2="625.88" y2="267.51" stroke="#111" stroke-width="0.9" />
<line x1="621.28" y1="314.94" x2="625.88" y2="314.94" stroke="#111" stroke-width="0.9" />
<rect x="619.28" y="277.56" width="8.60" height="17.29" fill="none" stroke="#111" stroke-width="0.9"/>
<line x1="619.28" y1="287.60" x2="627.88" y2="287.60" stroke="#111" stroke-width="0.9" />
<line x1="637.94" y1="273.12" x2="637.94" y2="274.60" stroke="#111" stroke-width="0.9" />
<line x1="637.94" y1="290.85" x2="637.94" y2="313.75" stroke="#111" stroke-width="0.9" />
<line x1="635.64" y1="273.12" x2="640.24" y2="273.12" stroke="#111" stroke-width="0.9" />
<line x1="635.64" y1="313.75" x2="640.24" y2="313.75" stroke="#111" stroke-width="0.9" />
<rect x="633.64" y="274.60" width="8.60" height="16.25" fill="none" stroke="#111" stroke-width="0.9"/>
<line x1="633.64" y1="283.46" x2="642.24" y2="283.46" stroke="#111" stroke-width="0.9" />
<line x1="652.30" y1="258.79" x2="652.30" y2="266.33" stroke="#111" stroke-width="0.9" />
<line x1="652.30" y1="293.51" x2="652.30" y2="301.19" stroke="#111" stroke-width="0.9" />
<line x1="650.00" y1="258.79" x2="654.60" y2="258.79" stroke="#111" stroke-width="0.9" />
<line x1="650.00" y1="301.19" x2="654.60" y2="301.19" stroke="#111" stroke-width="0.9" />
<rect x="648.00" y="266.33" width="8.60" height="27.19" fill="none" stroke="#111" stroke-width="0.9"/>
<line x1="648.00" y1="278.74" x2="656.60" y2="278.74" stroke="#111" stroke-width="0.9" />
<text x="466.96" y="214.20" font-family="Liberation Sans" font-weight="bold" font-size="7.1" text-anchor="middle" fill="#111" stroke="#111" stroke-width="0.5" >ns</text>
<line x1="462.36" y1="217.60" x2="471.56" y2="217.60" stroke="#111" stroke-width="1.0" />
<text x="481.31" y="214.20" font-family="Liberation Sans" font-weight="bold" font-size="7.1" text-anchor="middle" fill="#111" stroke="#111" stroke-width="0.5" >ns</text>
<line x1="476.71" y1="217.60" x2="485.91" y2="217.60" stroke="#111" stroke-width="1.0" />
<text x="524.38" y="214.20" font-family="Liberation Sans" font-weight="bold" font-size="7.1" text-anchor="middle" fill="#111" stroke="#111" stroke-width="0.5" >ns</text>
<line x1="519.78" y1="217.60" x2="528.99" y2="217.60" stroke="#111" stroke-width="1.0" />
<text x="538.74" y="214.20" font-family="Liberation Sans" font-weight="bold" font-size="7.1" text-anchor="middle" fill="#111" stroke="#111" stroke-width="0.5" >ns</text>
<line x1="534.14" y1="217.60" x2="543.34" y2="217.60" stroke="#111" stroke-width="1.0" />
<text x="581.81" y="214.20" font-family="Liberation Sans" font-weight="bold" font-size="7.1" text-anchor="middle" fill="#111" stroke="#111" stroke-width="0.5" >ns</text>
<line x1="577.21" y1="217.60" x2="586.41" y2="217.60" stroke="#111" stroke-width="1.0" />
<text x="596.17" y="214.20" font-family="Liberation Sans" font-weight="bold" font-size="7.1" text-anchor="middle" fill="#111" stroke="#111" stroke-width="0.5" >ns</text>
<line x1="591.57" y1="217.60" x2="600.77" y2="217.60" stroke="#111" stroke-width="1.0" />
<text x="639.24" y="214.20" font-family="Liberation Sans" font-weight="bold" font-size="7.1" text-anchor="middle" fill="#111" stroke="#111" stroke-width="0.5" >ns</text>
<line x1="634.64" y1="217.60" x2="643.84" y2="217.60" stroke="#111" stroke-width="1.0" />
<text x="653.60" y="214.20" font-family="Liberation Sans" font-weight="bold" font-size="7.1" text-anchor="middle" fill="#111" stroke="#111" stroke-width="0.5" >ns</text>
<line x1="649.00" y1="217.60" x2="658.20" y2="217.60" stroke="#111" stroke-width="1.0" />
</g>
</svg>
</body></html>
